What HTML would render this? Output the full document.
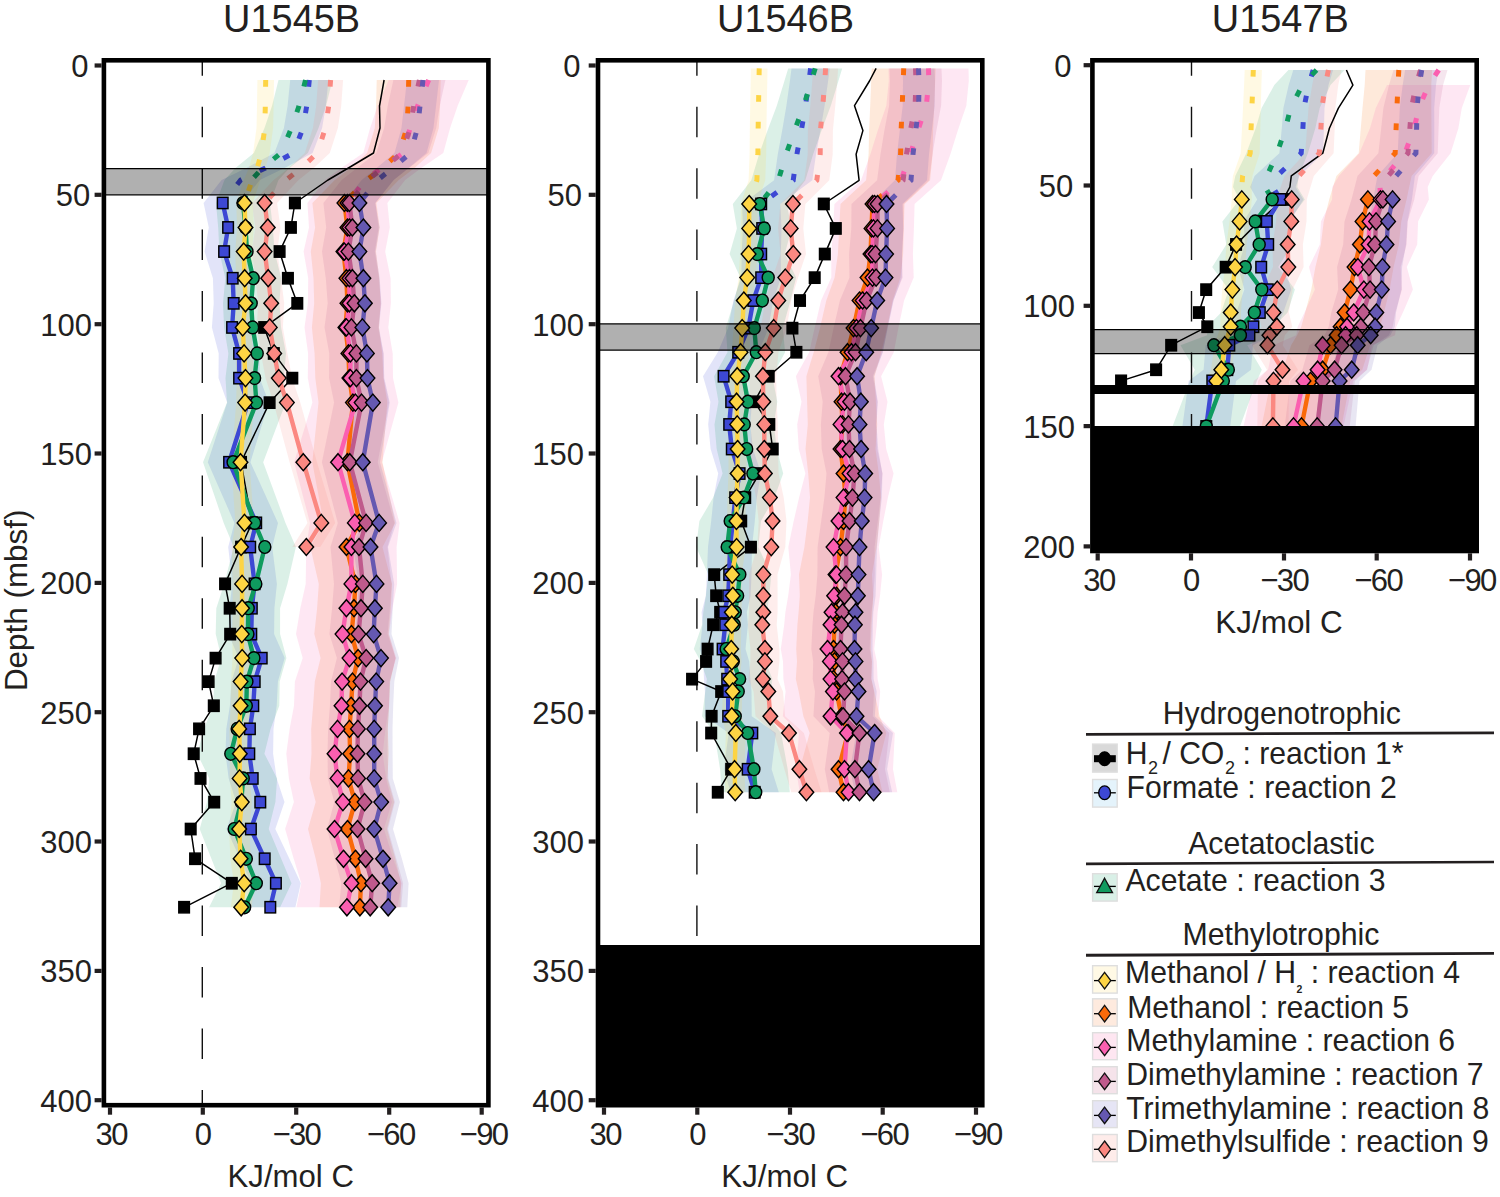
<!DOCTYPE html>
<html><head><meta charset="utf-8"><title>Figure</title>
<style>html,body{margin:0;padding:0;background:#fff}svg{display:block}text{font-family:"Liberation Sans",Arial,Helvetica,sans-serif;fill:#231f20}</style>
</head><body>
<svg width="1500" height="1197" viewBox="0 0 1500 1197" font-size="31">
<rect width="1500" height="1197" fill="#fff"/>
<clipPath id="clip1"><rect x="103.9" y="60.3" width="384.5" height="1044.9"/></clipPath>
<g clip-path="url(#clip1)">
<path d="M290.2 80 L287.6 106 L283.9 128 L274.4 153 L246.4 168 L221.6 180 L203.6 203 L208.8 227.5 L204.6 251.6 L212.9 278.2 L213.7 303.3 L211.9 327.4 L218.7 353.4 L218.5 378.1 L227.2 402.6 L207.8 462.2 L234.4 522.9 L228.2 547 L232.3 583.9 L229.2 608.2 L228.5 634.1 L238.7 658.1 L231.5 681.6 L229.9 705.8 L226.3 728.9 L225.5 753.8 L228.7 778.4 L236.1 802.1 L226.5 829 L240 858.8 L251 883.2 L245.2 907.3 L295.4 907.3 L300.8 883.2 L289.4 858.8 L275.3 829 L284.5 802.1 L276.7 778.4 L273.1 753.8 L273.5 728.9 L276.7 705.8 L277.9 681.6 L284.7 658.1 L274.1 634.1 L274.4 608.2 L276.9 583.9 L272.2 547 L278 522.9 L250.4 462.2 L268.8 402.6 L259.7 378.1 L259.5 353.4 L252.3 327.4 L253.7 303.3 L252.5 278.2 L243.6 251.6 L247.4 227.5 L241.8 203 L259.8 180 L284.6 168 L312.6 153 L322.1 128 L325.8 106 L328.4 80Z" fill="#3d48d4" fill-opacity="0.15"/>
<path d="M278.5 80 L272 106 L264.5 128 L253.9 153 L235.5 168 L224.5 180 L216 203 L218.2 227.5 L219.4 251.6 L225.3 278.2 L223 303.3 L224.1 327.4 L228.4 353.4 L225.5 378.1 L227 402.6 L203 462.2 L223.7 522.9 L233.7 547 L224.2 583.9 L216.3 608.2 L215.7 634.1 L221.4 658.1 L214.1 681.6 L213.3 705.8 L203.9 728.9 L197.2 753.8 L209.3 778.4 L207 802.1 L199.7 829 L211.4 858.8 L221.1 883.2 L209.1 907.3 L280.1 907.3 L291.5 883.2 L281.2 858.8 L268.7 829 L275.4 802.1 L277.1 778.4 L264.4 753.8 L270.5 728.9 L279.3 705.8 L279.7 681.6 L286.4 658.1 L280.1 634.1 L280.1 608.2 L287.4 583.9 L295.9 547 L285.5 522.9 L263.2 462.2 L285.8 402.6 L283.7 378.1 L286 353.4 L281.1 327.4 L279.4 303.3 L281.1 278.2 L274.6 251.6 L272.8 227.5 L270 203 L278.5 180 L289.5 168 L307.9 153 L318.5 128 L326 106 L332.5 80Z" fill="#0f9b5f" fill-opacity="0.15"/>
<path d="M257.4 80 L257 106 L256.5 128 L253.1 153 L248.9 168 L243.8 180 L236.2 203 L237.1 227.5 L235.2 251.6 L236.2 278.2 L236.9 303.3 L234 327.4 L235.3 353.4 L236.7 378.1 L236.2 402.6 L231.4 462.2 L235.3 522.9 L231.8 547 L232.7 583.9 L232.6 608.2 L232.2 634.1 L232.6 658.1 L230.9 681.6 L230.8 705.8 L229.3 728.9 L229.9 753.8 L229.6 778.4 L231.7 802.1 L229.1 829 L230.4 858.8 L233.9 883.2 L230.8 907.3 L251.6 907.3 L254.5 883.2 L250.8 858.8 L249.3 829 L251.9 802.1 L249.6 778.4 L249.7 753.8 L249.1 728.9 L250.4 705.8 L250.3 681.6 L251.8 658.1 L251.4 634.1 L251.6 608.2 L251.5 583.9 L250.4 547 L253.7 522.9 L249.6 462.2 L254 402.6 L254.3 378.1 L252.9 353.4 L251.4 327.4 L254.1 303.3 L253.2 278.2 L252.2 251.6 L253.9 227.5 L252.8 203 L260.4 180 L265.5 168 L269.7 153 L273.1 128 L273.6 106 L274 80Z" fill="#fdd444" fill-opacity="0.15"/>
<path d="M376.7 80 L376.1 106 L374.8 128 L367.1 153 L350.6 168 L334.8 180 L312.4 203 L315.1 227.5 L310.8 251.6 L313.5 278.2 L314.2 303.3 L311.9 327.4 L314.6 353.4 L315.3 378.1 L318.5 402.6 L312.3 462.2 L323.6 522.9 L310.3 547 L318.8 583.9 L317.1 608.2 L314.3 634.1 L320.6 658.1 L314.8 681.6 L313.1 705.8 L311.2 728.9 L311.5 753.8 L309.6 778.4 L315.7 802.1 L308 829 L315.7 858.8 L320.9 883.2 L319.5 907.3 L400.3 907.3 L401.1 883.2 L395.3 858.8 L387 829 L394.1 802.1 L387.4 778.4 L388.7 753.8 L387.8 728.9 L389.1 705.8 L390.2 681.6 L395.6 658.1 L388.7 634.1 L390.9 608.2 L392 583.9 L382.5 547 L395.2 522.9 L382.5 462.2 L387.3 402.6 L383.5 378.1 L382.2 353.4 L378.9 327.4 L380.6 303.3 L379.3 278.2 L376 251.6 L379.7 227.5 L376.4 203 L398.8 180 L414.6 168 L431.1 153 L438.8 128 L440.1 106 L440.7 80Z" fill="#fa6a0a" fill-opacity="0.15"/>
<path d="M388.7 80 L377.6 106 L370.1 128 L363.3 153 L341.3 168 L325.2 180 L307.4 203 L309 227.5 L303.6 251.6 L308.2 278.2 L307.9 303.3 L304.5 327.4 L308.1 353.4 L307.8 378.1 L312.4 402.6 L294.1 462.2 L310 522.9 L306.2 547 L305.7 583.9 L300.3 608.2 L296 634.1 L302.7 658.1 L294.9 681.6 L294 705.8 L289.6 728.9 L286.3 753.8 L288.9 778.4 L293.9 802.1 L285.1 829 L293.7 858.8 L301.3 883.2 L296.4 907.3 L397.4 907.3 L401.7 883.2 L393.3 858.8 L383.9 829 L391.9 802.1 L386.1 778.4 L382.7 753.8 L385.4 728.9 L389 705.8 L389.3 681.6 L396.3 658.1 L389 634.1 L392.5 608.2 L397.1 583.9 L396.6 547 L399.6 522.9 L381.9 462.2 L398.4 402.6 L393 378.1 L392.7 353.4 L388.3 327.4 L390.9 303.3 L390.6 278.2 L385.2 251.6 L389.8 227.5 L387.4 203 L405.2 180 L421.3 168 L443.3 153 L450.1 128 L457.6 106 L468.7 80Z" fill="#fb5fb0" fill-opacity="0.15"/>
<path d="M393.4 80 L387.7 106 L384.2 128 L376.3 153 L357.1 168 L341.7 180 L323.4 203 L326.2 227.5 L322 251.6 L325.8 278.2 L327.7 303.3 L324.5 327.4 L329.3 353.4 L329.1 378.1 L334.1 402.6 L321.9 462.2 L337.8 522.9 L330.5 547 L334 583.9 L332.1 608.2 L329.4 634.1 L336.9 658.1 L331 681.6 L329.9 705.8 L328.1 728.9 L327.5 753.8 L327.9 778.4 L334.3 802.1 L327 829 L334.9 858.8 L341.3 883.2 L339.1 907.3 L401.3 907.3 L403.1 883.2 L396.3 858.8 L388 829 L394.9 802.1 L388.3 778.4 L387.5 753.8 L387.7 728.9 L389.1 705.8 L390 681.6 L395.5 658.1 L387.6 634.1 L389.9 608.2 L391.6 583.9 L387.5 547 L394.4 522.9 L377.7 462.2 L389.1 402.6 L383.7 378.1 L383.5 353.4 L378.3 327.4 L381.1 303.3 L379 278.2 L374.8 251.6 L378.6 227.5 L375.4 203 L393.7 180 L409.1 168 L428.3 153 L436.2 128 L439.7 106 L445.4 80Z" fill="#bf5a8c" fill-opacity="0.15"/>
<path d="M407 80 L404 106 L401.5 128 L394.5 153 L376.6 168 L361.7 180 L343.4 203 L347.3 227.5 L343.2 251.6 L347.1 278.2 L348.4 303.3 L345.8 327.4 L350.2 353.4 L350.7 378.1 L356 402.6 L345.6 462.2 L361.7 522.9 L353 547 L358.8 583.9 L357.1 608.2 L355.7 634.1 L363 658.1 L358.1 681.6 L356.8 705.8 L355.9 728.9 L355.8 753.8 L355.6 778.4 L362.5 802.1 L355.4 829 L364.1 858.8 L370.6 883.2 L369.1 907.3 L407.3 907.3 L408.6 883.2 L401.9 858.8 L393 829 L399.9 802.1 L392.8 778.4 L392.6 753.8 L392.5 728.9 L393.2 705.8 L394.3 681.6 L399 658.1 L391.5 634.1 L392.7 608.2 L394.2 583.9 L388 547 L396.5 522.9 L380 462.2 L389.8 402.6 L384.3 378.1 L383.6 353.4 L379 327.4 L381.4 303.3 L379.7 278.2 L375.6 251.6 L379.5 227.5 L375.4 203 L393.7 180 L408.6 168 L426.5 153 L433.5 128 L436 106 L439 80Z" fill="#6558b1" fill-opacity="0.15"/>
<path d="M318.1 80 L316.2 106 L312.9 128 L304.8 153 L288.8 168 L273.6 180 L252.1 203 L255.2 227.5 L251.9 251.6 L255.4 278.2 L258.2 303.3 L256.7 327.4 L261 353.4 L265.5 378.1 L273.5 402.6 L289.6 462.2 L307.4 522.9 L292.3 547 L320.3 547 L335.2 522.9 L317 462.2 L300.3 402.6 L292.1 378.1 L287.4 353.4 L282.9 327.4 L284.2 303.3 L281 278.2 L277.3 251.6 L280.4 227.5 L277.1 203 L298.6 180 L313.8 168 L329.8 153 L337.9 128 L341.2 106 L343.1 80Z" fill="#fb8881" fill-opacity="0.15"/>
<line x1="202.3" y1="45.25" x2="202.3" y2="1105.2" stroke="#111" stroke-width="1.4" stroke-dasharray="30.5 30.95"/>
<path d="M384.1 80 L379.5 106 L380 128 L373.5 153 L348.4 168 L328 180 L294.9 203 L290.9 227.5 L279.6 251.6 L287.9 278.2 L297.3 303.3 L264.2 327.4 L273.8 353.4 L292.3 378.1 L269.6 402.6 L241 462.2 L252 522.9 L241.1 547 L225.1 583.9 L229.7 608.2 L230.2 634.1 L215.6 658.1 L208.6 681.6 L213.8 705.8 L199.1 728.9 L193.7 753.8 L200.5 778.4 L214.2 802.1 L190.7 829 L195.1 858.8 L231.8 883.2 L184.1 907.3" fill="none" stroke="#000" stroke-width="1.5" stroke-linejoin="round"/>
<path d="M309.3 80 L306.7 106 L303 128 L293.5 153 L265.5 168 L240.7 180 L222.7 203" fill="none" stroke="#3d48d4" stroke-width="5" stroke-dasharray="6.7 20"/>
<path d="M222.7 203 L228.1 227.5 L224.1 251.6 L232.7 278.2 L233.7 303.3 L232.1 327.4 L239.1 353.4 L239.1 378.1 L248 402.6 L229.1 462.2 L256.2 522.9 L250.2 547 L254.6 583.9 L251.8 608.2 L251.3 634.1 L261.7 658.1 L254.7 681.6 L253.3 705.8 L249.9 728.9 L249.3 753.8 L252.7 778.4 L260.3 802.1 L250.9 829 L264.7 858.8 L275.9 883.2 L270.3 907.3" fill="none" stroke="#3d48d4" stroke-width="4.4" stroke-linejoin="round"/>
<path d="M305.5 80 L299 106 L291.5 128 L280.9 153 L262.5 168 L251.5 180 L243 203" fill="none" stroke="#0f9b5f" stroke-width="5" stroke-dasharray="6.7 20"/>
<path d="M243 203 L245.5 227.5 L247 251.6 L253.2 278.2 L251.2 303.3 L252.6 327.4 L257.2 353.4 L254.6 378.1 L256.4 402.6 L233.1 462.2 L254.6 522.9 L264.8 547 L255.8 583.9 L248.2 608.2 L247.9 634.1 L253.9 658.1 L246.9 681.6 L246.3 705.8 L237.2 728.9 L230.8 753.8 L243.2 778.4 L241.2 802.1 L234.2 829 L246.3 858.8 L256.3 883.2 L244.6 907.3" fill="none" stroke="#0f9b5f" stroke-width="4.4" stroke-linejoin="round"/>
<path d="M265.7 80 L265.3 106 L264.8 128 L261.4 153 L257.2 168 L252.1 180 L244.5 203" fill="none" stroke="#fdd444" stroke-width="5" stroke-dasharray="6.7 20"/>
<path d="M244.5 203 L245.5 227.5 L243.7 251.6 L244.7 278.2 L245.5 303.3 L242.7 327.4 L244.1 353.4 L245.5 378.1 L245.1 402.6 L240.5 462.2 L244.5 522.9 L241.1 547 L242.1 583.9 L242.1 608.2 L241.8 634.1 L242.2 658.1 L240.6 681.6 L240.6 705.8 L239.2 728.9 L239.8 753.8 L239.6 778.4 L241.8 802.1 L239.2 829 L240.6 858.8 L244.2 883.2 L241.2 907.3" fill="none" stroke="#fdd444" stroke-width="4.4" stroke-linejoin="round"/>
<path d="M408.7 80 L408.1 106 L406.8 128 L399.1 153 L382.6 168 L366.8 180 L344.4 203" fill="none" stroke="#fa6a0a" stroke-width="5" stroke-dasharray="6.7 20"/>
<path d="M344.4 203 L347.4 227.5 L343.4 251.6 L346.4 278.2 L347.4 303.3 L345.4 327.4 L348.4 353.4 L349.4 378.1 L352.9 402.6 L347.4 462.2 L359.4 522.9 L346.4 547 L355.4 583.9 L354 608.2 L351.5 634.1 L358.1 658.1 L352.5 681.6 L351.1 705.8 L349.5 728.9 L350.1 753.8 L348.5 778.4 L354.9 802.1 L347.5 829 L355.5 858.8 L361 883.2 L359.9 907.3" fill="none" stroke="#fa6a0a" stroke-width="4.4" stroke-linejoin="round"/>
<path d="M428.7 80 L417.6 106 L410.1 128 L403.3 153 L381.3 168 L365.2 180 L347.4 203" fill="none" stroke="#fb5fb0" stroke-width="5" stroke-dasharray="6.7 20"/>
<path d="M347.4 203 L349.4 227.5 L344.4 251.6 L349.4 278.2 L349.4 303.3 L346.4 327.4 L350.4 353.4 L350.4 378.1 L355.4 402.6 L338 462.2 L354.8 522.9 L351.4 547 L351.4 583.9 L346.4 608.2 L342.5 634.1 L349.5 658.1 L342.1 681.6 L341.5 705.8 L337.5 728.9 L334.5 753.8 L337.5 778.4 L342.9 802.1 L334.5 829 L343.5 858.8 L351.5 883.2 L346.9 907.3" fill="none" stroke="#fb5fb0" stroke-width="4.4" stroke-linejoin="round"/>
<path d="M419.4 80 L413.7 106 L410.2 128 L402.3 153 L383.1 168 L367.7 180 L349.4 203" fill="none" stroke="#bf5a8c" stroke-width="5" stroke-dasharray="6.7 20"/>
<path d="M349.4 203 L352.4 227.5 L348.4 251.6 L352.4 278.2 L354.4 303.3 L351.4 327.4 L356.4 353.4 L356.4 378.1 L361.6 402.6 L349.8 462.2 L366.1 522.9 L359 547 L362.8 583.9 L361 608.2 L358.5 634.1 L366.2 658.1 L360.5 681.6 L359.5 705.8 L357.9 728.9 L357.5 753.8 L358.1 778.4 L364.6 802.1 L357.5 829 L365.6 858.8 L372.2 883.2 L370.2 907.3" fill="none" stroke="#bf5a8c" stroke-width="4.4" stroke-linejoin="round"/>
<path d="M423 80 L420 106 L417.5 128 L410.5 153 L392.6 168 L377.7 180 L359.4 203" fill="none" stroke="#6558b1" stroke-width="5" stroke-dasharray="6.7 20"/>
<path d="M359.4 203 L363.4 227.5 L359.4 251.6 L363.4 278.2 L364.9 303.3 L362.4 327.4 L366.9 353.4 L367.5 378.1 L372.9 402.6 L362.8 462.2 L379.1 522.9 L370.5 547 L376.5 583.9 L374.9 608.2 L373.6 634.1 L381 658.1 L376.2 681.6 L375 705.8 L374.2 728.9 L374.2 753.8 L374.2 778.4 L381.2 802.1 L374.2 829 L383 858.8 L389.6 883.2 L388.2 907.3" fill="none" stroke="#6558b1" stroke-width="4.4" stroke-linejoin="round"/>
<path d="M330.6 80 L328.7 106 L325.4 128 L317.3 153 L301.3 168 L286.1 180 L264.6 203" fill="none" stroke="#fb8881" stroke-width="5" stroke-dasharray="6.7 20"/>
<path d="M264.6 203 L267.8 227.5 L264.6 251.6 L268.2 278.2 L271.2 303.3 L269.8 327.4 L274.2 353.4 L278.8 378.1 L286.9 402.6 L303.3 462.2 L321.3 522.9 L306.3 547" fill="none" stroke="#fb8881" stroke-width="4.4" stroke-linejoin="round"/>
<g fill="#000000" stroke="#000" stroke-width="1.45" stroke-linejoin="miter"><rect x="289.6" y="197.3" width="10.6" height="11.3"/><rect x="285.6" y="221.8" width="10.6" height="11.3"/><rect x="274.3" y="245.9" width="10.6" height="11.3"/><rect x="282.6" y="272.6" width="10.6" height="11.3"/><rect x="292" y="297.7" width="10.6" height="11.3"/><rect x="258.9" y="321.8" width="10.6" height="11.3"/><rect x="268.5" y="347.8" width="10.6" height="11.3"/><rect x="287" y="372.5" width="10.6" height="11.3"/><rect x="264.3" y="397" width="10.6" height="11.3"/><rect x="235.7" y="456.6" width="10.6" height="11.3"/><rect x="246.7" y="517.2" width="10.6" height="11.3"/><rect x="235.8" y="541.4" width="10.6" height="11.3"/><rect x="219.8" y="578.2" width="10.6" height="11.3"/><rect x="224.4" y="602.6" width="10.6" height="11.3"/><rect x="224.9" y="628.5" width="10.6" height="11.3"/><rect x="210.3" y="652.5" width="10.6" height="11.3"/><rect x="203.3" y="676" width="10.6" height="11.3"/><rect x="208.5" y="700.1" width="10.6" height="11.3"/><rect x="193.8" y="723.2" width="10.6" height="11.3"/><rect x="188.4" y="748.1" width="10.6" height="11.3"/><rect x="195.2" y="772.8" width="10.6" height="11.3"/><rect x="208.9" y="796.5" width="10.6" height="11.3"/><rect x="185.4" y="823.4" width="10.6" height="11.3"/><rect x="189.8" y="853.1" width="10.6" height="11.3"/><rect x="226.5" y="877.6" width="10.6" height="11.3"/><rect x="178.8" y="901.6" width="10.6" height="11.3"/></g>
<g fill="#3d48d4" stroke="#000" stroke-width="1.45" stroke-linejoin="miter"><rect x="217.4" y="197.3" width="10.6" height="11.3"/><rect x="222.8" y="221.8" width="10.6" height="11.3"/><rect x="218.8" y="245.9" width="10.6" height="11.3"/><rect x="227.4" y="272.6" width="10.6" height="11.3"/><rect x="228.4" y="297.7" width="10.6" height="11.3"/><rect x="226.8" y="321.8" width="10.6" height="11.3"/><rect x="233.8" y="347.8" width="10.6" height="11.3"/><rect x="233.8" y="372.5" width="10.6" height="11.3"/><rect x="242.7" y="397" width="10.6" height="11.3"/><rect x="223.8" y="456.6" width="10.6" height="11.3"/><rect x="250.9" y="517.2" width="10.6" height="11.3"/><rect x="244.9" y="541.4" width="10.6" height="11.3"/><rect x="249.3" y="578.2" width="10.6" height="11.3"/><rect x="246.5" y="602.6" width="10.6" height="11.3"/><rect x="246" y="628.5" width="10.6" height="11.3"/><rect x="256.4" y="652.5" width="10.6" height="11.3"/><rect x="249.4" y="676" width="10.6" height="11.3"/><rect x="248" y="700.1" width="10.6" height="11.3"/><rect x="244.6" y="723.2" width="10.6" height="11.3"/><rect x="244" y="748.1" width="10.6" height="11.3"/><rect x="247.4" y="772.8" width="10.6" height="11.3"/><rect x="255" y="796.5" width="10.6" height="11.3"/><rect x="245.6" y="823.4" width="10.6" height="11.3"/><rect x="259.4" y="853.1" width="10.6" height="11.3"/><rect x="270.6" y="877.6" width="10.6" height="11.3"/><rect x="265" y="901.6" width="10.6" height="11.3"/></g>
<g fill="#0f9b5f" stroke="#000" stroke-width="1.45" stroke-linejoin="miter"><ellipse cx="243" cy="203" rx="6" ry="6.4"/><ellipse cx="245.5" cy="227.5" rx="6" ry="6.4"/><ellipse cx="247" cy="251.6" rx="6" ry="6.4"/><ellipse cx="253.2" cy="278.2" rx="6" ry="6.4"/><ellipse cx="251.2" cy="303.3" rx="6" ry="6.4"/><ellipse cx="252.6" cy="327.4" rx="6" ry="6.4"/><ellipse cx="257.2" cy="353.4" rx="6" ry="6.4"/><ellipse cx="254.6" cy="378.1" rx="6" ry="6.4"/><ellipse cx="256.4" cy="402.6" rx="6" ry="6.4"/><ellipse cx="233.1" cy="462.2" rx="6" ry="6.4"/><ellipse cx="254.6" cy="522.9" rx="6" ry="6.4"/><ellipse cx="264.8" cy="547" rx="6" ry="6.4"/><ellipse cx="255.8" cy="583.9" rx="6" ry="6.4"/><ellipse cx="248.2" cy="608.2" rx="6" ry="6.4"/><ellipse cx="247.9" cy="634.1" rx="6" ry="6.4"/><ellipse cx="253.9" cy="658.1" rx="6" ry="6.4"/><ellipse cx="246.9" cy="681.6" rx="6" ry="6.4"/><ellipse cx="246.3" cy="705.8" rx="6" ry="6.4"/><ellipse cx="237.2" cy="728.9" rx="6" ry="6.4"/><ellipse cx="230.8" cy="753.8" rx="6" ry="6.4"/><ellipse cx="243.2" cy="778.4" rx="6" ry="6.4"/><ellipse cx="241.2" cy="802.1" rx="6" ry="6.4"/><ellipse cx="234.2" cy="829" rx="6" ry="6.4"/><ellipse cx="246.3" cy="858.8" rx="6" ry="6.4"/><ellipse cx="256.3" cy="883.2" rx="6" ry="6.4"/><ellipse cx="244.6" cy="907.3" rx="6" ry="6.4"/></g>
<g fill="#fdd444" stroke="#000" stroke-width="1.45" stroke-linejoin="miter"><path d="M244.5 194.5L251.8 203L244.5 211.5L237.2 203Z"/><path d="M245.5 219L252.8 227.5L245.5 236L238.2 227.5Z"/><path d="M243.7 243.1L251 251.6L243.7 260.1L236.4 251.6Z"/><path d="M244.7 269.7L252 278.2L244.7 286.7L237.4 278.2Z"/><path d="M245.5 294.8L252.8 303.3L245.5 311.8L238.2 303.3Z"/><path d="M242.7 318.9L250 327.4L242.7 335.9L235.4 327.4Z"/><path d="M244.1 344.9L251.4 353.4L244.1 361.9L236.8 353.4Z"/><path d="M245.5 369.6L252.8 378.1L245.5 386.6L238.2 378.1Z"/><path d="M245.1 394.1L252.4 402.6L245.1 411.1L237.8 402.6Z"/><path d="M240.5 453.7L247.8 462.2L240.5 470.7L233.2 462.2Z"/><path d="M244.5 514.4L251.8 522.9L244.5 531.4L237.2 522.9Z"/><path d="M241.1 538.5L248.4 547L241.1 555.5L233.8 547Z"/><path d="M242.1 575.4L249.4 583.9L242.1 592.4L234.8 583.9Z"/><path d="M242.1 599.7L249.4 608.2L242.1 616.7L234.8 608.2Z"/><path d="M241.8 625.6L249.1 634.1L241.8 642.6L234.5 634.1Z"/><path d="M242.2 649.6L249.5 658.1L242.2 666.6L234.9 658.1Z"/><path d="M240.6 673.1L247.9 681.6L240.6 690.1L233.3 681.6Z"/><path d="M240.6 697.3L247.9 705.8L240.6 714.3L233.3 705.8Z"/><path d="M239.2 720.4L246.5 728.9L239.2 737.4L231.9 728.9Z"/><path d="M239.8 745.3L247.1 753.8L239.8 762.3L232.5 753.8Z"/><path d="M239.6 769.9L246.9 778.4L239.6 786.9L232.3 778.4Z"/><path d="M241.8 793.6L249.1 802.1L241.8 810.6L234.5 802.1Z"/><path d="M239.2 820.5L246.5 829L239.2 837.5L231.9 829Z"/><path d="M240.6 850.3L247.9 858.8L240.6 867.3L233.3 858.8Z"/><path d="M244.2 874.7L251.5 883.2L244.2 891.7L236.9 883.2Z"/><path d="M241.2 898.8L248.5 907.3L241.2 915.8L233.9 907.3Z"/></g>
<g fill="#fa6a0a" stroke="#000" stroke-width="1.45" stroke-linejoin="miter"><path d="M344.4 194.5L351.7 203L344.4 211.5L337.1 203Z"/><path d="M347.4 219L354.7 227.5L347.4 236L340.1 227.5Z"/><path d="M343.4 243.1L350.7 251.6L343.4 260.1L336.1 251.6Z"/><path d="M346.4 269.7L353.7 278.2L346.4 286.7L339.1 278.2Z"/><path d="M347.4 294.8L354.7 303.3L347.4 311.8L340.1 303.3Z"/><path d="M345.4 318.9L352.7 327.4L345.4 335.9L338.1 327.4Z"/><path d="M348.4 344.9L355.7 353.4L348.4 361.9L341.1 353.4Z"/><path d="M349.4 369.6L356.7 378.1L349.4 386.6L342.1 378.1Z"/><path d="M352.9 394.1L360.2 402.6L352.9 411.1L345.6 402.6Z"/><path d="M347.4 453.7L354.7 462.2L347.4 470.7L340.1 462.2Z"/><path d="M359.4 514.4L366.7 522.9L359.4 531.4L352.1 522.9Z"/><path d="M346.4 538.5L353.7 547L346.4 555.5L339.1 547Z"/><path d="M355.4 575.4L362.7 583.9L355.4 592.4L348.1 583.9Z"/><path d="M354 599.7L361.3 608.2L354 616.7L346.7 608.2Z"/><path d="M351.5 625.6L358.8 634.1L351.5 642.6L344.2 634.1Z"/><path d="M358.1 649.6L365.4 658.1L358.1 666.6L350.8 658.1Z"/><path d="M352.5 673.1L359.8 681.6L352.5 690.1L345.2 681.6Z"/><path d="M351.1 697.3L358.4 705.8L351.1 714.3L343.8 705.8Z"/><path d="M349.5 720.4L356.8 728.9L349.5 737.4L342.2 728.9Z"/><path d="M350.1 745.3L357.4 753.8L350.1 762.3L342.8 753.8Z"/><path d="M348.5 769.9L355.8 778.4L348.5 786.9L341.2 778.4Z"/><path d="M354.9 793.6L362.2 802.1L354.9 810.6L347.6 802.1Z"/><path d="M347.5 820.5L354.8 829L347.5 837.5L340.2 829Z"/><path d="M355.5 850.3L362.8 858.8L355.5 867.3L348.2 858.8Z"/><path d="M361 874.7L368.3 883.2L361 891.7L353.7 883.2Z"/><path d="M359.9 898.8L367.2 907.3L359.9 915.8L352.6 907.3Z"/></g>
<g fill="#fb5fb0" stroke="#000" stroke-width="1.45" stroke-linejoin="miter"><path d="M347.4 194.5L354.7 203L347.4 211.5L340.1 203Z"/><path d="M349.4 219L356.7 227.5L349.4 236L342.1 227.5Z"/><path d="M344.4 243.1L351.7 251.6L344.4 260.1L337.1 251.6Z"/><path d="M349.4 269.7L356.7 278.2L349.4 286.7L342.1 278.2Z"/><path d="M349.4 294.8L356.7 303.3L349.4 311.8L342.1 303.3Z"/><path d="M346.4 318.9L353.7 327.4L346.4 335.9L339.1 327.4Z"/><path d="M350.4 344.9L357.7 353.4L350.4 361.9L343.1 353.4Z"/><path d="M350.4 369.6L357.7 378.1L350.4 386.6L343.1 378.1Z"/><path d="M355.4 394.1L362.7 402.6L355.4 411.1L348.1 402.6Z"/><path d="M338 453.7L345.3 462.2L338 470.7L330.7 462.2Z"/><path d="M354.8 514.4L362.1 522.9L354.8 531.4L347.5 522.9Z"/><path d="M351.4 538.5L358.7 547L351.4 555.5L344.1 547Z"/><path d="M351.4 575.4L358.7 583.9L351.4 592.4L344.1 583.9Z"/><path d="M346.4 599.7L353.7 608.2L346.4 616.7L339.1 608.2Z"/><path d="M342.5 625.6L349.8 634.1L342.5 642.6L335.2 634.1Z"/><path d="M349.5 649.6L356.8 658.1L349.5 666.6L342.2 658.1Z"/><path d="M342.1 673.1L349.4 681.6L342.1 690.1L334.8 681.6Z"/><path d="M341.5 697.3L348.8 705.8L341.5 714.3L334.2 705.8Z"/><path d="M337.5 720.4L344.8 728.9L337.5 737.4L330.2 728.9Z"/><path d="M334.5 745.3L341.8 753.8L334.5 762.3L327.2 753.8Z"/><path d="M337.5 769.9L344.8 778.4L337.5 786.9L330.2 778.4Z"/><path d="M342.9 793.6L350.2 802.1L342.9 810.6L335.6 802.1Z"/><path d="M334.5 820.5L341.8 829L334.5 837.5L327.2 829Z"/><path d="M343.5 850.3L350.8 858.8L343.5 867.3L336.2 858.8Z"/><path d="M351.5 874.7L358.8 883.2L351.5 891.7L344.2 883.2Z"/><path d="M346.9 898.8L354.2 907.3L346.9 915.8L339.6 907.3Z"/></g>
<g fill="#bf5a8c" stroke="#000" stroke-width="1.45" stroke-linejoin="miter"><path d="M349.4 194.5L356.7 203L349.4 211.5L342.1 203Z"/><path d="M352.4 219L359.7 227.5L352.4 236L345.1 227.5Z"/><path d="M348.4 243.1L355.7 251.6L348.4 260.1L341.1 251.6Z"/><path d="M352.4 269.7L359.7 278.2L352.4 286.7L345.1 278.2Z"/><path d="M354.4 294.8L361.7 303.3L354.4 311.8L347.1 303.3Z"/><path d="M351.4 318.9L358.7 327.4L351.4 335.9L344.1 327.4Z"/><path d="M356.4 344.9L363.7 353.4L356.4 361.9L349.1 353.4Z"/><path d="M356.4 369.6L363.7 378.1L356.4 386.6L349.1 378.1Z"/><path d="M361.6 394.1L368.9 402.6L361.6 411.1L354.3 402.6Z"/><path d="M349.8 453.7L357.1 462.2L349.8 470.7L342.5 462.2Z"/><path d="M366.1 514.4L373.4 522.9L366.1 531.4L358.8 522.9Z"/><path d="M359 538.5L366.3 547L359 555.5L351.7 547Z"/><path d="M362.8 575.4L370.1 583.9L362.8 592.4L355.5 583.9Z"/><path d="M361 599.7L368.3 608.2L361 616.7L353.7 608.2Z"/><path d="M358.5 625.6L365.8 634.1L358.5 642.6L351.2 634.1Z"/><path d="M366.2 649.6L373.5 658.1L366.2 666.6L358.9 658.1Z"/><path d="M360.5 673.1L367.8 681.6L360.5 690.1L353.2 681.6Z"/><path d="M359.5 697.3L366.8 705.8L359.5 714.3L352.2 705.8Z"/><path d="M357.9 720.4L365.2 728.9L357.9 737.4L350.6 728.9Z"/><path d="M357.5 745.3L364.8 753.8L357.5 762.3L350.2 753.8Z"/><path d="M358.1 769.9L365.4 778.4L358.1 786.9L350.8 778.4Z"/><path d="M364.6 793.6L371.9 802.1L364.6 810.6L357.3 802.1Z"/><path d="M357.5 820.5L364.8 829L357.5 837.5L350.2 829Z"/><path d="M365.6 850.3L372.9 858.8L365.6 867.3L358.3 858.8Z"/><path d="M372.2 874.7L379.5 883.2L372.2 891.7L364.9 883.2Z"/><path d="M370.2 898.8L377.5 907.3L370.2 915.8L362.9 907.3Z"/></g>
<g fill="#6558b1" stroke="#000" stroke-width="1.45" stroke-linejoin="miter"><path d="M359.4 194.5L366.7 203L359.4 211.5L352.1 203Z"/><path d="M363.4 219L370.7 227.5L363.4 236L356.1 227.5Z"/><path d="M359.4 243.1L366.7 251.6L359.4 260.1L352.1 251.6Z"/><path d="M363.4 269.7L370.7 278.2L363.4 286.7L356.1 278.2Z"/><path d="M364.9 294.8L372.2 303.3L364.9 311.8L357.6 303.3Z"/><path d="M362.4 318.9L369.7 327.4L362.4 335.9L355.1 327.4Z"/><path d="M366.9 344.9L374.2 353.4L366.9 361.9L359.6 353.4Z"/><path d="M367.5 369.6L374.8 378.1L367.5 386.6L360.2 378.1Z"/><path d="M372.9 394.1L380.2 402.6L372.9 411.1L365.6 402.6Z"/><path d="M362.8 453.7L370.1 462.2L362.8 470.7L355.5 462.2Z"/><path d="M379.1 514.4L386.4 522.9L379.1 531.4L371.8 522.9Z"/><path d="M370.5 538.5L377.8 547L370.5 555.5L363.2 547Z"/><path d="M376.5 575.4L383.8 583.9L376.5 592.4L369.2 583.9Z"/><path d="M374.9 599.7L382.2 608.2L374.9 616.7L367.6 608.2Z"/><path d="M373.6 625.6L380.9 634.1L373.6 642.6L366.3 634.1Z"/><path d="M381 649.6L388.3 658.1L381 666.6L373.7 658.1Z"/><path d="M376.2 673.1L383.5 681.6L376.2 690.1L368.9 681.6Z"/><path d="M375 697.3L382.3 705.8L375 714.3L367.7 705.8Z"/><path d="M374.2 720.4L381.5 728.9L374.2 737.4L366.9 728.9Z"/><path d="M374.2 745.3L381.5 753.8L374.2 762.3L366.9 753.8Z"/><path d="M374.2 769.9L381.5 778.4L374.2 786.9L366.9 778.4Z"/><path d="M381.2 793.6L388.5 802.1L381.2 810.6L373.9 802.1Z"/><path d="M374.2 820.5L381.5 829L374.2 837.5L366.9 829Z"/><path d="M383 850.3L390.3 858.8L383 867.3L375.7 858.8Z"/><path d="M389.6 874.7L396.9 883.2L389.6 891.7L382.3 883.2Z"/><path d="M388.2 898.8L395.5 907.3L388.2 915.8L380.9 907.3Z"/></g>
<g fill="#fb8881" stroke="#000" stroke-width="1.45" stroke-linejoin="miter"><path d="M264.6 194.5L271.9 203L264.6 211.5L257.3 203Z"/><path d="M267.8 219L275.1 227.5L267.8 236L260.5 227.5Z"/><path d="M264.6 243.1L271.9 251.6L264.6 260.1L257.3 251.6Z"/><path d="M268.2 269.7L275.5 278.2L268.2 286.7L260.9 278.2Z"/><path d="M271.2 294.8L278.5 303.3L271.2 311.8L263.9 303.3Z"/><path d="M269.8 318.9L277.1 327.4L269.8 335.9L262.5 327.4Z"/><path d="M274.2 344.9L281.5 353.4L274.2 361.9L266.9 353.4Z"/><path d="M278.8 369.6L286.1 378.1L278.8 386.6L271.5 378.1Z"/><path d="M286.9 394.1L294.2 402.6L286.9 411.1L279.6 402.6Z"/><path d="M303.3 453.7L310.6 462.2L303.3 470.7L296 462.2Z"/><path d="M321.3 514.4L328.6 522.9L321.3 531.4L314 522.9Z"/><path d="M306.3 538.5L313.6 547L306.3 555.5L299 547Z"/></g>
<rect x="100" y="168.7" width="392" height="26.1" fill="#000" fill-opacity="0.31"/><line x1="100" y1="168.7" x2="492" y2="168.7" stroke="#000" stroke-width="1.3"/><line x1="100" y1="194.8" x2="492" y2="194.8" stroke="#000" stroke-width="1.3"/>
</g>
<rect x="103.9" y="60.3" width="384.5" height="1044.9" fill="none" stroke="#000" stroke-width="4.6"/>
<line x1="94.6" y1="65.5" x2="101.6" y2="65.5" stroke="#231f20" stroke-width="4.2"/>
<text transform="translate(88.5 77) scale(1 1.03)" text-anchor="end">0</text>
<line x1="94.6" y1="194.8" x2="101.6" y2="194.8" stroke="#231f20" stroke-width="4.2"/>
<text transform="translate(90.3 206.3) scale(1 1.03)" text-anchor="end">50</text>
<line x1="94.6" y1="324.2" x2="101.6" y2="324.2" stroke="#231f20" stroke-width="4.2"/>
<text transform="translate(92 335.7) scale(1 1.03)" text-anchor="end">100</text>
<line x1="94.6" y1="453.5" x2="101.6" y2="453.5" stroke="#231f20" stroke-width="4.2"/>
<text transform="translate(92 465) scale(1 1.03)" text-anchor="end">150</text>
<line x1="94.6" y1="582.9" x2="101.6" y2="582.9" stroke="#231f20" stroke-width="4.2"/>
<text transform="translate(92 594.4) scale(1 1.03)" text-anchor="end">200</text>
<line x1="94.6" y1="712.2" x2="101.6" y2="712.2" stroke="#231f20" stroke-width="4.2"/>
<text transform="translate(92 723.7) scale(1 1.03)" text-anchor="end">250</text>
<line x1="94.6" y1="841.5" x2="101.6" y2="841.5" stroke="#231f20" stroke-width="4.2"/>
<text transform="translate(92 853) scale(1 1.03)" text-anchor="end">300</text>
<line x1="94.6" y1="970.9" x2="101.6" y2="970.9" stroke="#231f20" stroke-width="4.2"/>
<text transform="translate(92 982.4) scale(1 1.03)" text-anchor="end">350</text>
<line x1="94.6" y1="1100.2" x2="101.6" y2="1100.2" stroke="#231f20" stroke-width="4.2"/>
<text transform="translate(92 1111.7) scale(1 1.03)" text-anchor="end">400</text>
<line x1="110" y1="1107.5" x2="110" y2="1114.7" stroke="#231f20" stroke-width="4.2"/>
<text transform="translate(111.2 1145) scale(1 1.03)" text-anchor="middle" letter-spacing="-1.6">30</text>
<line x1="202.8" y1="1107.5" x2="202.8" y2="1114.7" stroke="#231f20" stroke-width="4.2"/>
<text transform="translate(203.4 1145) scale(1 1.03)" text-anchor="middle">0</text>
<line x1="296.2" y1="1107.5" x2="296.2" y2="1114.7" stroke="#231f20" stroke-width="4.2"/>
<text transform="translate(296.4 1145) scale(1 1.03)" text-anchor="middle" letter-spacing="-1.7">−30</text>
<line x1="389.2" y1="1107.5" x2="389.2" y2="1114.7" stroke="#231f20" stroke-width="4.2"/>
<text transform="translate(390.7 1145) scale(1 1.03)" text-anchor="middle" letter-spacing="-1.7">−60</text>
<line x1="481.7" y1="1107.5" x2="481.7" y2="1114.7" stroke="#231f20" stroke-width="4.2"/>
<text transform="translate(483.5 1145) scale(1 1.03)" text-anchor="middle" letter-spacing="-1.7">−90</text>
<clipPath id="clip2"><rect x="598" y="60.3" width="384.29999999999995" height="1044.9"/></clipPath>
<g clip-path="url(#clip2)">
<path d="M791.5 68.4 L789.9 81 L786.4 105.7 L782.2 130.6 L777.8 154.2 L774.1 180.3 L742.1 204 L742.9 228.4 L741.6 254.1 L741.4 277.6 L733.4 300.5 L728.1 328.1 L717.8 352.2 L703 376.2 L710.4 401.7 L708.2 424.4 L710.6 449 L718.2 473.5 L713.6 497.6 L711.2 521 L708 547.1 L706.9 574.6 L705.8 595.8 L701.6 612.3 L702.5 624.7 L699.7 649 L703.2 661.4 L704 679.1 L704.9 691.5 L704.7 716.3 L728.7 733 L723.8 769.2 L730.6 792.2 L778.8 792.2 L771.6 769.2 L775.9 733 L751.7 716.3 L751.5 691.5 L750.4 679.1 L749.2 661.4 L745.5 649 L747.9 624.7 L746.8 612.3 L750.6 595.8 L751.5 574.6 L752 547.1 L754.8 521 L756.8 497.6 L761 473.5 L753 449 L750.2 424.4 L752 401.7 L744.2 376.2 L758.6 352.2 L768.5 328.1 L773.2 300.5 L781 277.6 L780.8 254.1 L781.5 228.4 L780.3 204 L812.3 180.3 L816 154.2 L820.4 130.6 L824.6 105.7 L828.1 81 L829.7 68.4Z" fill="#3d48d4" fill-opacity="0.15"/>
<path d="M788.2 68.4 L784.4 81 L776.8 105.7 L767.5 130.6 L759.1 154.2 L751.3 180.3 L732.8 204 L736.9 228.4 L729.6 254.1 L740.3 277.6 L734.1 300.5 L725.8 328.1 L727.5 352.2 L714.1 376.2 L718.5 401.7 L714.5 424.4 L716.7 449 L722.6 473.5 L713.2 497.6 L699.4 521 L696.1 547.1 L708.3 574.6 L705.9 595.8 L703.3 612.3 L702.1 624.7 L693.8 649 L700.7 661.4 L706.9 679.1 L705.3 691.5 L702 716.3 L714.3 733 L720.1 769.2 L721.6 792.2 L789.8 792.2 L787.7 769.2 L781.1 733 L768.4 716.3 L771.1 691.5 L772.3 679.1 L765.7 661.4 L758.6 649 L766.3 624.7 L767.1 612.3 L769.3 595.8 L771.3 574.6 L758.3 547.1 L761 521 L774.4 497.6 L783.2 473.5 L776.7 449 L773.9 424.4 L777.3 401.7 L772.3 376.2 L785.1 352.2 L782.8 328.1 L790.5 300.5 L796.1 277.6 L784.8 254.1 L791.5 228.4 L786.8 204 L805.3 180.3 L813.1 154.2 L821.5 130.6 L830.8 105.7 L838.4 81 L842.2 68.4Z" fill="#0f9b5f" fill-opacity="0.15"/>
<path d="M750.9 68.4 L750.7 81 L750.2 105.7 L749.8 130.6 L749.6 154.2 L748.6 180.3 L740.9 204 L740.8 228.4 L740.1 254.1 L738.7 277.6 L735.2 300.5 L733.5 328.1 L731.9 352.2 L728.4 376.2 L727.7 401.7 L728.2 424.4 L728.6 449 L728.5 473.5 L727.4 497.6 L727.2 521 L727.3 547.1 L722.8 574.6 L723.3 595.8 L722.3 612.3 L722.3 624.7 L721.6 649 L722.1 661.4 L720.5 679.1 L722.9 691.5 L722 716.3 L725.9 733 L724.6 769.2 L725.2 792.2 L745.2 792.2 L744.6 769.2 L745.7 733 L741.6 716.3 L742.3 691.5 L739.9 679.1 L741.5 661.4 L740.8 649 L741.3 624.7 L741.3 612.3 L742.3 595.8 L741.6 574.6 L745.9 547.1 L745.6 521 L745.8 497.6 L746.7 473.5 L746.6 449 L746.2 424.4 L745.5 401.7 L746 376.2 L749.3 352.2 L750.9 328.1 L752.4 300.5 L755.7 277.6 L757.1 254.1 L757.6 228.4 L757.5 204 L765.2 180.3 L766.2 154.2 L766.4 130.6 L766.8 105.7 L767.3 81 L767.5 68.4Z" fill="#fdd444" fill-opacity="0.15"/>
<path d="M871.7 68.4 L871.2 81 L870.2 105.7 L869.1 130.6 L868.6 154.2 L866.1 180.3 L840.5 204 L839.2 228.4 L837.9 254.1 L834.6 277.6 L826.3 300.5 L820 328.1 L813.7 352.2 L806.4 376.2 L807.1 401.7 L807.8 424.4 L805.5 449 L808.2 473.5 L810 497.6 L807.7 521 L804.4 547.1 L799 574.6 L799.8 595.8 L798.6 612.3 L797.4 624.7 L796.2 649 L797 661.4 L795.8 679.1 L798.7 691.5 L803.4 716.3 L809.7 733 L799.7 769.2 L804.5 792.2 L882.5 792.2 L877.3 769.2 L886.3 733 L879.6 716.3 L874.3 691.5 L871.2 679.1 L872 661.4 L870.8 649 L871.6 624.7 L872.4 612.3 L873.2 595.8 L872 574.6 L876.6 547.1 L879.3 521 L881 497.6 L878.8 473.5 L875.5 449 L877.2 424.4 L875.9 401.7 L874.6 376.2 L881.3 352.2 L887 328.1 L892.7 300.5 L900.4 277.6 L903.1 254.1 L903.8 228.4 L904.5 204 L930.1 180.3 L932.6 154.2 L933.1 130.6 L934.2 105.7 L935.2 81 L935.7 68.4Z" fill="#fa6a0a" fill-opacity="0.15"/>
<path d="M888.5 68.4 L888.8 81 L886.3 105.7 L877.8 130.6 L870.4 154.2 L861 180.3 L834.4 204 L833.1 228.4 L831.3 254.1 L831.3 277.6 L821.1 300.5 L814.6 328.1 L809.2 352.2 L795.9 376.2 L801.5 401.7 L797.2 424.4 L798.8 449 L805.4 473.5 L799.1 497.6 L793.7 521 L788.3 547.1 L790.9 574.6 L788.2 595.8 L785.4 612.3 L784.2 624.7 L780.8 649 L783 661.4 L783.4 679.1 L785.6 691.5 L782.8 716.3 L799 733 L796 769.2 L799.7 792.2 L897.3 792.2 L893 769.2 L894.8 733 L878.2 716.3 L880.2 691.5 L877.6 679.1 L876.8 661.4 L874.2 649 L876.8 624.7 L877.6 612.3 L880 595.8 L882.1 574.6 L878.7 547.1 L883.3 521 L887.9 497.6 L893.6 473.5 L886.2 449 L883.8 424.4 L887.5 401.7 L881.1 376.2 L893.8 352.2 L898.4 328.1 L904.1 300.5 L913.7 277.6 L912.9 254.1 L913.9 228.4 L914.6 204 L941 180.3 L950.4 154.2 L957.8 130.6 L966.3 105.7 L968.8 81 L968.5 68.4Z" fill="#fb5fb0" fill-opacity="0.15"/>
<path d="M889.5 68.4 L890 81 L889.1 105.7 L884.4 130.6 L880.5 154.2 L877.1 180.3 L851.5 204 L851.3 228.4 L849.1 254.1 L849.5 277.6 L839.9 300.5 L833.6 328.1 L828.4 352.2 L818.2 376.2 L822.7 401.7 L820.9 424.4 L821.7 449 L826.5 473.5 L824.4 497.6 L821.2 521 L817.6 547.1 L817.4 574.6 L815.7 595.8 L813.5 612.3 L812.5 624.7 L811.3 649 L813.2 661.4 L812.7 679.1 L815 691.5 L813.4 716.3 L829.7 733 L824.8 769.2 L829.2 792.2 L889.8 792.2 L885 769.2 L889.3 733 L872.8 716.3 L874 691.5 L871.5 679.1 L871.8 661.4 L869.7 649 L870.5 624.7 L871.5 612.3 L873.3 595.8 L874.8 574.6 L874.6 547.1 L877.8 521 L880.6 497.6 L882.5 473.5 L877.3 449 L876.1 424.4 L877.5 401.7 L872.8 376.2 L882.6 352.2 L887.4 328.1 L893.3 300.5 L902.7 277.6 L901.9 254.1 L903.7 228.4 L903.5 204 L929.1 180.3 L932.5 154.2 L936.4 130.6 L941.1 105.7 L942 81 L941.5 68.4Z" fill="#bf5a8c" fill-opacity="0.15"/>
<path d="M902.5 68.4 L903 81 L902.7 105.7 L899.8 130.6 L897 154.2 L895 180.3 L870.5 204 L871 228.4 L869.9 254.1 L869.2 277.6 L860.8 300.5 L854.6 328.1 L849.5 352.2 L840.3 376.2 L844 401.7 L842.5 424.4 L844 449 L848 473.5 L847.3 497.6 L844.4 521 L842 547.1 L840.8 574.6 L840.2 595.8 L837.7 612.3 L837 624.7 L836.5 649 L837.5 661.4 L837.4 679.1 L840.3 691.5 L838.2 716.3 L856.2 733 L850.1 769.2 L855 792.2 L892.2 792.2 L887.1 769.2 L893 733 L874.8 716.3 L876.7 691.5 L873.6 679.1 L873.5 661.4 L872.5 649 L872.8 624.7 L873.3 612.3 L875.6 595.8 L876.2 574.6 L877 547.1 L879.2 521 L881.9 497.6 L882.4 473.5 L878.2 449 L876.5 424.4 L877.8 401.7 L873.9 376.2 L882.9 352.2 L887.8 328.1 L893.6 300.5 L901.8 277.6 L902.3 254.1 L903.2 228.4 L902.5 204 L927 180.3 L929 154.2 L931.8 130.6 L934.7 105.7 L935 81 L934.5 68.4Z" fill="#6558b1" fill-opacity="0.15"/>
<path d="M813.1 68.4 L812.3 81 L810.3 105.7 L807.9 130.6 L807.7 154.2 L804.3 180.3 L780.4 204 L778.1 228.4 L780.6 254.1 L772.5 277.6 L765.4 300.5 L760.6 328.1 L752.1 352.2 L749.6 376.2 L749.9 401.7 L750.8 424.4 L750.7 449 L751.2 473.5 L756.1 497.6 L758.7 521 L757.3 547.1 L749.1 574.6 L749 595.8 L749 612.3 L747.9 624.7 L750.4 649 L750.4 661.4 L748.3 679.1 L753.6 691.5 L755.5 716.3 L774.1 733 L784.4 769.2 L791.3 792.2 L821.5 792.2 L814.4 769.2 L803.9 733 L785.1 716.3 L783 691.5 L777.5 679.1 L779.4 661.4 L779.4 649 L776.7 624.7 L777.6 612.3 L777.6 595.8 L777.5 574.6 L785.3 547.1 L786.5 521 L783.7 497.6 L778.6 473.5 L777.9 449 L777.8 424.4 L776.7 401.7 L776.2 376.2 L778.5 352.2 L786.8 328.1 L791.2 300.5 L798.1 277.6 L806 254.1 L803.3 228.4 L805.4 204 L829.3 180.3 L832.7 154.2 L832.9 130.6 L835.3 105.7 L837.3 81 L838.1 68.4Z" fill="#fb8881" fill-opacity="0.15"/>
<line x1="696.9" y1="45.25" x2="696.9" y2="1105.2" stroke="#111" stroke-width="1.4" stroke-dasharray="30.5 30.95"/>
<path d="M876.1 68.4 L869.5 81 L854.5 105.7 L862.9 130.6 L856.1 154.2 L859.1 180.3 L823.8 204 L835.8 228.4 L824.8 254.1 L814.7 277.6 L800 300.5 L792.4 328.1 L796.4 352.2 L768.7 376.2 L754.3 401.7 L769.3 424.4 L772.7 449 L759.3 473.5 L745.2 497.6 L741.2 521 L750.9 547.1 L714.2 574.6 L716.2 595.8 L720.2 612.3 L713.2 624.7 L707.6 649 L706.1 661.4 L692.1 679.1 L721.2 691.5 L711.6 716.3 L711.2 733 L731.2 769.2 L717.8 792.2" fill="none" stroke="#000" stroke-width="1.5" stroke-linejoin="round"/>
<path d="M810.6 68.4 L809 81 L805.5 105.7 L801.3 130.6 L796.9 154.2 L793.2 180.3 L761.2 204" fill="none" stroke="#3d48d4" stroke-width="5" stroke-dasharray="6.7 20"/>
<path d="M761.2 204 L762.2 228.4 L761.2 254.1 L761.2 277.6 L753.3 300.5 L748.3 328.1 L738.2 352.2 L723.6 376.2 L731.2 401.7 L729.2 424.4 L731.8 449 L739.6 473.5 L735.2 497.6 L733 521 L730 547.1 L729.2 574.6 L728.2 595.8 L724.2 612.3 L725.2 624.7 L722.6 649 L726.2 661.4 L727.2 679.1 L728.2 691.5 L728.2 716.3 L752.3 733 L747.7 769.2 L754.7 792.2" fill="none" stroke="#3d48d4" stroke-width="4.4" stroke-linejoin="round"/>
<path d="M815.2 68.4 L811.4 81 L803.8 105.7 L794.5 130.6 L786.1 154.2 L778.3 180.3 L759.8 204" fill="none" stroke="#0f9b5f" stroke-width="5" stroke-dasharray="6.7 20"/>
<path d="M759.8 204 L764.2 228.4 L757.2 254.1 L768.2 277.6 L762.3 300.5 L754.3 328.1 L756.3 352.2 L743.2 376.2 L747.9 401.7 L744.2 424.4 L746.7 449 L752.9 473.5 L743.8 497.6 L730.2 521 L727.2 547.1 L739.8 574.6 L737.6 595.8 L735.2 612.3 L734.2 624.7 L726.2 649 L733.2 661.4 L739.6 679.1 L738.2 691.5 L735.2 716.3 L747.7 733 L753.9 769.2 L755.7 792.2" fill="none" stroke="#0f9b5f" stroke-width="4.4" stroke-linejoin="round"/>
<path d="M759.2 68.4 L759 81 L758.5 105.7 L758.1 130.6 L757.9 154.2 L756.9 180.3 L749.2 204" fill="none" stroke="#fdd444" stroke-width="5" stroke-dasharray="6.7 20"/>
<path d="M749.2 204 L749.2 228.4 L748.6 254.1 L747.2 277.6 L743.8 300.5 L742.2 328.1 L740.6 352.2 L737.2 376.2 L736.6 401.7 L737.2 424.4 L737.6 449 L737.6 473.5 L736.6 497.6 L736.4 521 L736.6 547.1 L732.2 574.6 L732.8 595.8 L731.8 612.3 L731.8 624.7 L731.2 649 L731.8 661.4 L730.2 679.1 L732.6 691.5 L731.8 716.3 L735.8 733 L734.6 769.2 L735.2 792.2" fill="none" stroke="#fdd444" stroke-width="4.4" stroke-linejoin="round"/>
<path d="M903.7 68.4 L903.2 81 L902.2 105.7 L901.1 130.6 L900.6 154.2 L898.1 180.3 L872.5 204" fill="none" stroke="#fa6a0a" stroke-width="5" stroke-dasharray="6.7 20"/>
<path d="M872.5 204 L871.5 228.4 L870.5 254.1 L867.5 277.6 L859.5 300.5 L853.5 328.1 L847.5 352.2 L840.5 376.2 L841.5 401.7 L842.5 424.4 L840.5 449 L843.5 473.5 L845.5 497.6 L843.5 521 L840.5 547.1 L835.5 574.6 L836.5 595.8 L835.5 612.3 L834.5 624.7 L833.5 649 L834.5 661.4 L833.5 679.1 L836.5 691.5 L841.5 716.3 L848 733 L838.5 769.2 L843.5 792.2" fill="none" stroke="#fa6a0a" stroke-width="4.4" stroke-linejoin="round"/>
<path d="M928.5 68.4 L928.8 81 L926.3 105.7 L917.8 130.6 L910.4 154.2 L901 180.3 L874.5 204" fill="none" stroke="#fb5fb0" stroke-width="5" stroke-dasharray="6.7 20"/>
<path d="M874.5 204 L873.5 228.4 L872.1 254.1 L872.5 277.6 L862.6 300.5 L856.5 328.1 L851.5 352.2 L838.5 376.2 L844.5 401.7 L840.5 424.4 L842.5 449 L849.5 473.5 L843.5 497.6 L838.5 521 L833.5 547.1 L836.5 574.6 L834.1 595.8 L831.5 612.3 L830.5 624.7 L827.5 649 L829.9 661.4 L830.5 679.1 L832.9 691.5 L830.5 716.3 L846.9 733 L844.5 769.2 L848.5 792.2" fill="none" stroke="#fb5fb0" stroke-width="4.4" stroke-linejoin="round"/>
<path d="M915.5 68.4 L916 81 L915.1 105.7 L910.4 130.6 L906.5 154.2 L903.1 180.3 L877.5 204" fill="none" stroke="#bf5a8c" stroke-width="5" stroke-dasharray="6.7 20"/>
<path d="M877.5 204 L877.5 228.4 L875.5 254.1 L876.1 277.6 L866.6 300.5 L860.5 328.1 L855.5 352.2 L845.5 376.2 L850.1 401.7 L848.5 424.4 L849.5 449 L854.5 473.5 L852.5 497.6 L849.5 521 L846.1 547.1 L846.1 574.6 L844.5 595.8 L842.5 612.3 L841.5 624.7 L840.5 649 L842.5 661.4 L842.1 679.1 L844.5 691.5 L843.1 716.3 L859.5 733 L854.9 769.2 L859.5 792.2" fill="none" stroke="#bf5a8c" stroke-width="4.4" stroke-linejoin="round"/>
<path d="M918.5 68.4 L919 81 L918.7 105.7 L915.8 130.6 L913 154.2 L911 180.3 L886.5 204" fill="none" stroke="#6558b1" stroke-width="5" stroke-dasharray="6.7 20"/>
<path d="M886.5 204 L887.1 228.4 L886.1 254.1 L885.5 277.6 L877.2 300.5 L871.2 328.1 L866.2 352.2 L857.1 376.2 L860.9 401.7 L859.5 424.4 L861.1 449 L865.2 473.5 L864.6 497.6 L861.8 521 L859.5 547.1 L858.5 574.6 L857.9 595.8 L855.5 612.3 L854.9 624.7 L854.5 649 L855.5 661.4 L855.5 679.1 L858.5 691.5 L856.5 716.3 L874.6 733 L868.6 769.2 L873.6 792.2" fill="none" stroke="#6558b1" stroke-width="4.4" stroke-linejoin="round"/>
<path d="M825.6 68.4 L824.8 81 L822.8 105.7 L820.4 130.6 L820.2 154.2 L816.8 180.3 L792.9 204" fill="none" stroke="#fb8881" stroke-width="5" stroke-dasharray="6.7 20"/>
<path d="M792.9 204 L790.7 228.4 L793.3 254.1 L785.3 277.6 L778.3 300.5 L773.7 328.1 L765.3 352.2 L762.9 376.2 L763.3 401.7 L764.3 424.4 L764.3 449 L764.9 473.5 L769.9 497.6 L772.6 521 L771.3 547.1 L763.3 574.6 L763.3 595.8 L763.3 612.3 L762.3 624.7 L764.9 649 L764.9 661.4 L762.9 679.1 L768.3 691.5 L770.3 716.3 L789 733 L799.4 769.2 L806.4 792.2" fill="none" stroke="#fb8881" stroke-width="4.4" stroke-linejoin="round"/>
<g fill="#000000" stroke="#000" stroke-width="1.45" stroke-linejoin="miter"><rect x="818.5" y="198.3" width="10.6" height="11.3"/><rect x="830.5" y="222.8" width="10.6" height="11.3"/><rect x="819.5" y="248.4" width="10.6" height="11.3"/><rect x="809.4" y="272" width="10.6" height="11.3"/><rect x="794.7" y="294.9" width="10.6" height="11.3"/><rect x="787.1" y="322.5" width="10.6" height="11.3"/><rect x="791.1" y="346.6" width="10.6" height="11.3"/><rect x="763.4" y="370.6" width="10.6" height="11.3"/><rect x="749" y="396.1" width="10.6" height="11.3"/><rect x="764" y="418.8" width="10.6" height="11.3"/><rect x="767.4" y="443.4" width="10.6" height="11.3"/><rect x="754" y="467.9" width="10.6" height="11.3"/><rect x="739.9" y="492" width="10.6" height="11.3"/><rect x="735.9" y="515.4" width="10.6" height="11.3"/><rect x="745.6" y="541.5" width="10.6" height="11.3"/><rect x="708.9" y="569" width="10.6" height="11.3"/><rect x="710.9" y="590.1" width="10.6" height="11.3"/><rect x="714.9" y="606.6" width="10.6" height="11.3"/><rect x="707.9" y="619.1" width="10.6" height="11.3"/><rect x="702.3" y="643.4" width="10.6" height="11.3"/><rect x="700.8" y="655.8" width="10.6" height="11.3"/><rect x="686.8" y="673.5" width="10.6" height="11.3"/><rect x="715.9" y="685.9" width="10.6" height="11.3"/><rect x="706.3" y="710.6" width="10.6" height="11.3"/><rect x="705.9" y="727.4" width="10.6" height="11.3"/><rect x="725.9" y="763.6" width="10.6" height="11.3"/><rect x="712.5" y="786.6" width="10.6" height="11.3"/></g>
<g fill="#3d48d4" stroke="#000" stroke-width="1.45" stroke-linejoin="miter"><rect x="755.9" y="198.3" width="10.6" height="11.3"/><rect x="756.9" y="222.8" width="10.6" height="11.3"/><rect x="755.9" y="248.4" width="10.6" height="11.3"/><rect x="755.9" y="272" width="10.6" height="11.3"/><rect x="748" y="294.9" width="10.6" height="11.3"/><rect x="743" y="322.5" width="10.6" height="11.3"/><rect x="732.9" y="346.6" width="10.6" height="11.3"/><rect x="718.3" y="370.6" width="10.6" height="11.3"/><rect x="725.9" y="396.1" width="10.6" height="11.3"/><rect x="723.9" y="418.8" width="10.6" height="11.3"/><rect x="726.5" y="443.4" width="10.6" height="11.3"/><rect x="734.3" y="467.9" width="10.6" height="11.3"/><rect x="729.9" y="492" width="10.6" height="11.3"/><rect x="727.7" y="515.4" width="10.6" height="11.3"/><rect x="724.7" y="541.5" width="10.6" height="11.3"/><rect x="723.9" y="569" width="10.6" height="11.3"/><rect x="722.9" y="590.1" width="10.6" height="11.3"/><rect x="718.9" y="606.6" width="10.6" height="11.3"/><rect x="719.9" y="619.1" width="10.6" height="11.3"/><rect x="717.3" y="643.4" width="10.6" height="11.3"/><rect x="720.9" y="655.8" width="10.6" height="11.3"/><rect x="721.9" y="673.5" width="10.6" height="11.3"/><rect x="722.9" y="685.9" width="10.6" height="11.3"/><rect x="722.9" y="710.6" width="10.6" height="11.3"/><rect x="747" y="727.4" width="10.6" height="11.3"/><rect x="742.4" y="763.6" width="10.6" height="11.3"/><rect x="749.4" y="786.6" width="10.6" height="11.3"/></g>
<g fill="#0f9b5f" stroke="#000" stroke-width="1.45" stroke-linejoin="miter"><ellipse cx="759.8" cy="204" rx="6" ry="6.4"/><ellipse cx="764.2" cy="228.4" rx="6" ry="6.4"/><ellipse cx="757.2" cy="254.1" rx="6" ry="6.4"/><ellipse cx="768.2" cy="277.6" rx="6" ry="6.4"/><ellipse cx="762.3" cy="300.5" rx="6" ry="6.4"/><ellipse cx="754.3" cy="328.1" rx="6" ry="6.4"/><ellipse cx="756.3" cy="352.2" rx="6" ry="6.4"/><ellipse cx="743.2" cy="376.2" rx="6" ry="6.4"/><ellipse cx="747.9" cy="401.7" rx="6" ry="6.4"/><ellipse cx="744.2" cy="424.4" rx="6" ry="6.4"/><ellipse cx="746.7" cy="449" rx="6" ry="6.4"/><ellipse cx="752.9" cy="473.5" rx="6" ry="6.4"/><ellipse cx="743.8" cy="497.6" rx="6" ry="6.4"/><ellipse cx="730.2" cy="521" rx="6" ry="6.4"/><ellipse cx="727.2" cy="547.1" rx="6" ry="6.4"/><ellipse cx="739.8" cy="574.6" rx="6" ry="6.4"/><ellipse cx="737.6" cy="595.8" rx="6" ry="6.4"/><ellipse cx="735.2" cy="612.3" rx="6" ry="6.4"/><ellipse cx="734.2" cy="624.7" rx="6" ry="6.4"/><ellipse cx="726.2" cy="649" rx="6" ry="6.4"/><ellipse cx="733.2" cy="661.4" rx="6" ry="6.4"/><ellipse cx="739.6" cy="679.1" rx="6" ry="6.4"/><ellipse cx="738.2" cy="691.5" rx="6" ry="6.4"/><ellipse cx="735.2" cy="716.3" rx="6" ry="6.4"/><ellipse cx="747.7" cy="733" rx="6" ry="6.4"/><ellipse cx="753.9" cy="769.2" rx="6" ry="6.4"/><ellipse cx="755.7" cy="792.2" rx="6" ry="6.4"/></g>
<g fill="#fdd444" stroke="#000" stroke-width="1.45" stroke-linejoin="miter"><path d="M749.2 195.5L756.5 204L749.2 212.5L741.9 204Z"/><path d="M749.2 219.9L756.5 228.4L749.2 236.9L741.9 228.4Z"/><path d="M748.6 245.6L755.9 254.1L748.6 262.6L741.3 254.1Z"/><path d="M747.2 269.1L754.5 277.6L747.2 286.1L739.9 277.6Z"/><path d="M743.8 292L751.1 300.5L743.8 309L736.5 300.5Z"/><path d="M742.2 319.6L749.5 328.1L742.2 336.6L734.9 328.1Z"/><path d="M740.6 343.7L747.9 352.2L740.6 360.7L733.3 352.2Z"/><path d="M737.2 367.7L744.5 376.2L737.2 384.7L729.9 376.2Z"/><path d="M736.6 393.2L743.9 401.7L736.6 410.2L729.3 401.7Z"/><path d="M737.2 415.9L744.5 424.4L737.2 432.9L729.9 424.4Z"/><path d="M737.6 440.5L744.9 449L737.6 457.5L730.3 449Z"/><path d="M737.6 465L744.9 473.5L737.6 482L730.3 473.5Z"/><path d="M736.6 489.1L743.9 497.6L736.6 506.1L729.3 497.6Z"/><path d="M736.4 512.5L743.7 521L736.4 529.5L729.1 521Z"/><path d="M736.6 538.6L743.9 547.1L736.6 555.6L729.3 547.1Z"/><path d="M732.2 566.1L739.5 574.6L732.2 583.1L724.9 574.6Z"/><path d="M732.8 587.3L740.1 595.8L732.8 604.3L725.5 595.8Z"/><path d="M731.8 603.8L739.1 612.3L731.8 620.8L724.5 612.3Z"/><path d="M731.8 616.2L739.1 624.7L731.8 633.2L724.5 624.7Z"/><path d="M731.2 640.5L738.5 649L731.2 657.5L723.9 649Z"/><path d="M731.8 652.9L739.1 661.4L731.8 669.9L724.5 661.4Z"/><path d="M730.2 670.6L737.5 679.1L730.2 687.6L722.9 679.1Z"/><path d="M732.6 683L739.9 691.5L732.6 700L725.3 691.5Z"/><path d="M731.8 707.8L739.1 716.3L731.8 724.8L724.5 716.3Z"/><path d="M735.8 724.5L743.1 733L735.8 741.5L728.5 733Z"/><path d="M734.6 760.7L741.9 769.2L734.6 777.7L727.3 769.2Z"/><path d="M735.2 783.7L742.5 792.2L735.2 800.7L727.9 792.2Z"/></g>
<g fill="#fa6a0a" stroke="#000" stroke-width="1.45" stroke-linejoin="miter"><path d="M872.5 195.5L879.8 204L872.5 212.5L865.2 204Z"/><path d="M871.5 219.9L878.8 228.4L871.5 236.9L864.2 228.4Z"/><path d="M870.5 245.6L877.8 254.1L870.5 262.6L863.2 254.1Z"/><path d="M867.5 269.1L874.8 277.6L867.5 286.1L860.2 277.6Z"/><path d="M859.5 292L866.8 300.5L859.5 309L852.2 300.5Z"/><path d="M853.5 319.6L860.8 328.1L853.5 336.6L846.2 328.1Z"/><path d="M847.5 343.7L854.8 352.2L847.5 360.7L840.2 352.2Z"/><path d="M840.5 367.7L847.8 376.2L840.5 384.7L833.2 376.2Z"/><path d="M841.5 393.2L848.8 401.7L841.5 410.2L834.2 401.7Z"/><path d="M842.5 415.9L849.8 424.4L842.5 432.9L835.2 424.4Z"/><path d="M840.5 440.5L847.8 449L840.5 457.5L833.2 449Z"/><path d="M843.5 465L850.8 473.5L843.5 482L836.2 473.5Z"/><path d="M845.5 489.1L852.8 497.6L845.5 506.1L838.2 497.6Z"/><path d="M843.5 512.5L850.8 521L843.5 529.5L836.2 521Z"/><path d="M840.5 538.6L847.8 547.1L840.5 555.6L833.2 547.1Z"/><path d="M835.5 566.1L842.8 574.6L835.5 583.1L828.2 574.6Z"/><path d="M836.5 587.3L843.8 595.8L836.5 604.3L829.2 595.8Z"/><path d="M835.5 603.8L842.8 612.3L835.5 620.8L828.2 612.3Z"/><path d="M834.5 616.2L841.8 624.7L834.5 633.2L827.2 624.7Z"/><path d="M833.5 640.5L840.8 649L833.5 657.5L826.2 649Z"/><path d="M834.5 652.9L841.8 661.4L834.5 669.9L827.2 661.4Z"/><path d="M833.5 670.6L840.8 679.1L833.5 687.6L826.2 679.1Z"/><path d="M836.5 683L843.8 691.5L836.5 700L829.2 691.5Z"/><path d="M841.5 707.8L848.8 716.3L841.5 724.8L834.2 716.3Z"/><path d="M848 724.5L855.3 733L848 741.5L840.7 733Z"/><path d="M838.5 760.7L845.8 769.2L838.5 777.7L831.2 769.2Z"/><path d="M843.5 783.7L850.8 792.2L843.5 800.7L836.2 792.2Z"/></g>
<g fill="#fb5fb0" stroke="#000" stroke-width="1.45" stroke-linejoin="miter"><path d="M874.5 195.5L881.8 204L874.5 212.5L867.2 204Z"/><path d="M873.5 219.9L880.8 228.4L873.5 236.9L866.2 228.4Z"/><path d="M872.1 245.6L879.4 254.1L872.1 262.6L864.8 254.1Z"/><path d="M872.5 269.1L879.8 277.6L872.5 286.1L865.2 277.6Z"/><path d="M862.6 292L869.9 300.5L862.6 309L855.3 300.5Z"/><path d="M856.5 319.6L863.8 328.1L856.5 336.6L849.2 328.1Z"/><path d="M851.5 343.7L858.8 352.2L851.5 360.7L844.2 352.2Z"/><path d="M838.5 367.7L845.8 376.2L838.5 384.7L831.2 376.2Z"/><path d="M844.5 393.2L851.8 401.7L844.5 410.2L837.2 401.7Z"/><path d="M840.5 415.9L847.8 424.4L840.5 432.9L833.2 424.4Z"/><path d="M842.5 440.5L849.8 449L842.5 457.5L835.2 449Z"/><path d="M849.5 465L856.8 473.5L849.5 482L842.2 473.5Z"/><path d="M843.5 489.1L850.8 497.6L843.5 506.1L836.2 497.6Z"/><path d="M838.5 512.5L845.8 521L838.5 529.5L831.2 521Z"/><path d="M833.5 538.6L840.8 547.1L833.5 555.6L826.2 547.1Z"/><path d="M836.5 566.1L843.8 574.6L836.5 583.1L829.2 574.6Z"/><path d="M834.1 587.3L841.4 595.8L834.1 604.3L826.8 595.8Z"/><path d="M831.5 603.8L838.8 612.3L831.5 620.8L824.2 612.3Z"/><path d="M830.5 616.2L837.8 624.7L830.5 633.2L823.2 624.7Z"/><path d="M827.5 640.5L834.8 649L827.5 657.5L820.2 649Z"/><path d="M829.9 652.9L837.2 661.4L829.9 669.9L822.6 661.4Z"/><path d="M830.5 670.6L837.8 679.1L830.5 687.6L823.2 679.1Z"/><path d="M832.9 683L840.2 691.5L832.9 700L825.6 691.5Z"/><path d="M830.5 707.8L837.8 716.3L830.5 724.8L823.2 716.3Z"/><path d="M846.9 724.5L854.2 733L846.9 741.5L839.6 733Z"/><path d="M844.5 760.7L851.8 769.2L844.5 777.7L837.2 769.2Z"/><path d="M848.5 783.7L855.8 792.2L848.5 800.7L841.2 792.2Z"/></g>
<g fill="#bf5a8c" stroke="#000" stroke-width="1.45" stroke-linejoin="miter"><path d="M877.5 195.5L884.8 204L877.5 212.5L870.2 204Z"/><path d="M877.5 219.9L884.8 228.4L877.5 236.9L870.2 228.4Z"/><path d="M875.5 245.6L882.8 254.1L875.5 262.6L868.2 254.1Z"/><path d="M876.1 269.1L883.4 277.6L876.1 286.1L868.8 277.6Z"/><path d="M866.6 292L873.9 300.5L866.6 309L859.3 300.5Z"/><path d="M860.5 319.6L867.8 328.1L860.5 336.6L853.2 328.1Z"/><path d="M855.5 343.7L862.8 352.2L855.5 360.7L848.2 352.2Z"/><path d="M845.5 367.7L852.8 376.2L845.5 384.7L838.2 376.2Z"/><path d="M850.1 393.2L857.4 401.7L850.1 410.2L842.8 401.7Z"/><path d="M848.5 415.9L855.8 424.4L848.5 432.9L841.2 424.4Z"/><path d="M849.5 440.5L856.8 449L849.5 457.5L842.2 449Z"/><path d="M854.5 465L861.8 473.5L854.5 482L847.2 473.5Z"/><path d="M852.5 489.1L859.8 497.6L852.5 506.1L845.2 497.6Z"/><path d="M849.5 512.5L856.8 521L849.5 529.5L842.2 521Z"/><path d="M846.1 538.6L853.4 547.1L846.1 555.6L838.8 547.1Z"/><path d="M846.1 566.1L853.4 574.6L846.1 583.1L838.8 574.6Z"/><path d="M844.5 587.3L851.8 595.8L844.5 604.3L837.2 595.8Z"/><path d="M842.5 603.8L849.8 612.3L842.5 620.8L835.2 612.3Z"/><path d="M841.5 616.2L848.8 624.7L841.5 633.2L834.2 624.7Z"/><path d="M840.5 640.5L847.8 649L840.5 657.5L833.2 649Z"/><path d="M842.5 652.9L849.8 661.4L842.5 669.9L835.2 661.4Z"/><path d="M842.1 670.6L849.4 679.1L842.1 687.6L834.8 679.1Z"/><path d="M844.5 683L851.8 691.5L844.5 700L837.2 691.5Z"/><path d="M843.1 707.8L850.4 716.3L843.1 724.8L835.8 716.3Z"/><path d="M859.5 724.5L866.8 733L859.5 741.5L852.2 733Z"/><path d="M854.9 760.7L862.2 769.2L854.9 777.7L847.6 769.2Z"/><path d="M859.5 783.7L866.8 792.2L859.5 800.7L852.2 792.2Z"/></g>
<g fill="#6558b1" stroke="#000" stroke-width="1.45" stroke-linejoin="miter"><path d="M886.5 195.5L893.8 204L886.5 212.5L879.2 204Z"/><path d="M887.1 219.9L894.4 228.4L887.1 236.9L879.8 228.4Z"/><path d="M886.1 245.6L893.4 254.1L886.1 262.6L878.8 254.1Z"/><path d="M885.5 269.1L892.8 277.6L885.5 286.1L878.2 277.6Z"/><path d="M877.2 292L884.5 300.5L877.2 309L869.9 300.5Z"/><path d="M871.2 319.6L878.5 328.1L871.2 336.6L863.9 328.1Z"/><path d="M866.2 343.7L873.5 352.2L866.2 360.7L858.9 352.2Z"/><path d="M857.1 367.7L864.4 376.2L857.1 384.7L849.8 376.2Z"/><path d="M860.9 393.2L868.2 401.7L860.9 410.2L853.6 401.7Z"/><path d="M859.5 415.9L866.8 424.4L859.5 432.9L852.2 424.4Z"/><path d="M861.1 440.5L868.4 449L861.1 457.5L853.8 449Z"/><path d="M865.2 465L872.5 473.5L865.2 482L857.9 473.5Z"/><path d="M864.6 489.1L871.9 497.6L864.6 506.1L857.3 497.6Z"/><path d="M861.8 512.5L869.1 521L861.8 529.5L854.5 521Z"/><path d="M859.5 538.6L866.8 547.1L859.5 555.6L852.2 547.1Z"/><path d="M858.5 566.1L865.8 574.6L858.5 583.1L851.2 574.6Z"/><path d="M857.9 587.3L865.2 595.8L857.9 604.3L850.6 595.8Z"/><path d="M855.5 603.8L862.8 612.3L855.5 620.8L848.2 612.3Z"/><path d="M854.9 616.2L862.2 624.7L854.9 633.2L847.6 624.7Z"/><path d="M854.5 640.5L861.8 649L854.5 657.5L847.2 649Z"/><path d="M855.5 652.9L862.8 661.4L855.5 669.9L848.2 661.4Z"/><path d="M855.5 670.6L862.8 679.1L855.5 687.6L848.2 679.1Z"/><path d="M858.5 683L865.8 691.5L858.5 700L851.2 691.5Z"/><path d="M856.5 707.8L863.8 716.3L856.5 724.8L849.2 716.3Z"/><path d="M874.6 724.5L881.9 733L874.6 741.5L867.3 733Z"/><path d="M868.6 760.7L875.9 769.2L868.6 777.7L861.3 769.2Z"/><path d="M873.6 783.7L880.9 792.2L873.6 800.7L866.3 792.2Z"/></g>
<g fill="#fb8881" stroke="#000" stroke-width="1.45" stroke-linejoin="miter"><path d="M792.9 195.5L800.2 204L792.9 212.5L785.6 204Z"/><path d="M790.7 219.9L798 228.4L790.7 236.9L783.4 228.4Z"/><path d="M793.3 245.6L800.6 254.1L793.3 262.6L786 254.1Z"/><path d="M785.3 269.1L792.6 277.6L785.3 286.1L778 277.6Z"/><path d="M778.3 292L785.6 300.5L778.3 309L771 300.5Z"/><path d="M773.7 319.6L781 328.1L773.7 336.6L766.4 328.1Z"/><path d="M765.3 343.7L772.6 352.2L765.3 360.7L758 352.2Z"/><path d="M762.9 367.7L770.2 376.2L762.9 384.7L755.6 376.2Z"/><path d="M763.3 393.2L770.6 401.7L763.3 410.2L756 401.7Z"/><path d="M764.3 415.9L771.6 424.4L764.3 432.9L757 424.4Z"/><path d="M764.3 440.5L771.6 449L764.3 457.5L757 449Z"/><path d="M764.9 465L772.2 473.5L764.9 482L757.6 473.5Z"/><path d="M769.9 489.1L777.2 497.6L769.9 506.1L762.6 497.6Z"/><path d="M772.6 512.5L779.9 521L772.6 529.5L765.3 521Z"/><path d="M771.3 538.6L778.6 547.1L771.3 555.6L764 547.1Z"/><path d="M763.3 566.1L770.6 574.6L763.3 583.1L756 574.6Z"/><path d="M763.3 587.3L770.6 595.8L763.3 604.3L756 595.8Z"/><path d="M763.3 603.8L770.6 612.3L763.3 620.8L756 612.3Z"/><path d="M762.3 616.2L769.6 624.7L762.3 633.2L755 624.7Z"/><path d="M764.9 640.5L772.2 649L764.9 657.5L757.6 649Z"/><path d="M764.9 652.9L772.2 661.4L764.9 669.9L757.6 661.4Z"/><path d="M762.9 670.6L770.2 679.1L762.9 687.6L755.6 679.1Z"/><path d="M768.3 683L775.6 691.5L768.3 700L761 691.5Z"/><path d="M770.3 707.8L777.6 716.3L770.3 724.8L763 716.3Z"/><path d="M789 724.5L796.3 733L789 741.5L781.7 733Z"/><path d="M799.4 760.7L806.7 769.2L799.4 777.7L792.1 769.2Z"/><path d="M806.4 783.7L813.7 792.2L806.4 800.7L799.1 792.2Z"/></g>
<rect x="594" y="323.9" width="392" height="26.2" fill="#000" fill-opacity="0.31"/><line x1="594" y1="323.9" x2="986" y2="323.9" stroke="#000" stroke-width="1.3"/><line x1="594" y1="350.1" x2="986" y2="350.1" stroke="#000" stroke-width="1.3"/>
<rect x="594" y="945" width="392" height="165" fill="#000"/>
</g>
<rect x="598" y="60.3" width="384.3" height="1044.9" fill="none" stroke="#000" stroke-width="4.6"/>
<line x1="588.7" y1="65.5" x2="595.7" y2="65.5" stroke="#231f20" stroke-width="4.2"/>
<text transform="translate(580.4 77) scale(1 1.03)" text-anchor="end">0</text>
<line x1="588.7" y1="194.8" x2="595.7" y2="194.8" stroke="#231f20" stroke-width="4.2"/>
<text transform="translate(582.1 206.3) scale(1 1.03)" text-anchor="end">50</text>
<line x1="588.7" y1="324.2" x2="595.7" y2="324.2" stroke="#231f20" stroke-width="4.2"/>
<text transform="translate(583.9 335.7) scale(1 1.03)" text-anchor="end">100</text>
<line x1="588.7" y1="453.5" x2="595.7" y2="453.5" stroke="#231f20" stroke-width="4.2"/>
<text transform="translate(583.9 465) scale(1 1.03)" text-anchor="end">150</text>
<line x1="588.7" y1="582.9" x2="595.7" y2="582.9" stroke="#231f20" stroke-width="4.2"/>
<text transform="translate(583.9 594.4) scale(1 1.03)" text-anchor="end">200</text>
<line x1="588.7" y1="712.2" x2="595.7" y2="712.2" stroke="#231f20" stroke-width="4.2"/>
<text transform="translate(583.9 723.7) scale(1 1.03)" text-anchor="end">250</text>
<line x1="588.7" y1="841.5" x2="595.7" y2="841.5" stroke="#231f20" stroke-width="4.2"/>
<text transform="translate(583.9 853) scale(1 1.03)" text-anchor="end">300</text>
<line x1="588.7" y1="970.9" x2="595.7" y2="970.9" stroke="#231f20" stroke-width="4.2"/>
<text transform="translate(583.9 982.4) scale(1 1.03)" text-anchor="end">350</text>
<line x1="588.7" y1="1100.2" x2="595.7" y2="1100.2" stroke="#231f20" stroke-width="4.2"/>
<text transform="translate(583.9 1111.7) scale(1 1.03)" text-anchor="end">400</text>
<line x1="604" y1="1107.5" x2="604" y2="1114.7" stroke="#231f20" stroke-width="4.2"/>
<text transform="translate(605.2 1145) scale(1 1.03)" text-anchor="middle" letter-spacing="-1.6">30</text>
<line x1="697.3" y1="1107.5" x2="697.3" y2="1114.7" stroke="#231f20" stroke-width="4.2"/>
<text transform="translate(697.9 1145) scale(1 1.03)" text-anchor="middle">0</text>
<line x1="790" y1="1107.5" x2="790" y2="1114.7" stroke="#231f20" stroke-width="4.2"/>
<text transform="translate(790.2 1145) scale(1 1.03)" text-anchor="middle" letter-spacing="-1.7">−30</text>
<line x1="882.7" y1="1107.5" x2="882.7" y2="1114.7" stroke="#231f20" stroke-width="4.2"/>
<text transform="translate(884.2 1145) scale(1 1.03)" text-anchor="middle" letter-spacing="-1.7">−60</text>
<line x1="976" y1="1107.5" x2="976" y2="1114.7" stroke="#231f20" stroke-width="4.2"/>
<text transform="translate(977.8 1145) scale(1 1.03)" text-anchor="middle" letter-spacing="-1.7">−90</text>
<clipPath id="clip3"><rect x="1092.4" y="60.3" width="384.29999999999995" height="490.7"/></clipPath>
<g clip-path="url(#clip3)">
<path d="M1293.3 70 L1288.7 85.1 L1283.4 108.1 L1281.8 128.2 L1279.4 153.2 L1254.6 175.9 L1250.1 187 L1257.2 199.4 L1243.6 221.4 L1244.9 244.5 L1237.9 267.1 L1244.4 289.6 L1236.3 312.5 L1229.9 326.7 L1225.8 335.2 L1205.7 345.2 L1203.6 369.7 L1188.6 380.9 L1182.4 426.4 L1230.2 426.4 L1236 380.9 L1251 369.7 L1252.9 345.2 L1273 335.2 L1276.9 326.7 L1283.3 312.5 L1291.2 289.6 L1284.5 267.1 L1291.5 244.5 L1290 221.4 L1303.4 199.4 L1295.6 187 L1299.5 175.9 L1323 153.2 L1324 128.2 L1324.5 108.1 L1328.5 85.1 L1333.1 70Z" fill="#3d48d4" fill-opacity="0.15"/>
<path d="M1288.4 70 L1274.3 85.1 L1261.6 108.1 L1255.7 128.2 L1246.3 153.2 L1235.3 175.9 L1233 187 L1239.6 199.4 L1222.4 221.4 L1226.3 244.5 L1212.2 267.1 L1228.7 289.6 L1221.2 312.5 L1207.1 326.7 L1207.1 335.2 L1180.5 345.2 L1194.8 369.7 L1189.8 380.9 L1172.5 426.4 L1240 426.4 L1256.8 380.9 L1261.8 369.7 L1247.3 345.2 L1273.7 335.2 L1273.7 326.7 L1287.6 312.5 L1294.9 289.6 L1278.2 267.1 L1292.1 244.5 L1288 221.4 L1304.8 199.4 L1297.3 187 L1298.7 175.9 L1307.9 153.2 L1315.3 128.2 L1319.7 108.1 L1330.5 85.1 L1344.6 70Z" fill="#0f9b5f" fill-opacity="0.15"/>
<path d="M1244.7 70 L1244.1 85.1 L1243 108.1 L1242 128.2 L1240.7 153.2 L1232.9 175.9 L1231.9 187 L1231.8 199.4 L1229.5 221.4 L1226.4 244.5 L1225 267.1 L1222.2 289.6 L1220.5 312.5 L1220.5 326.7 L1214.4 345.2 L1211 369.7 L1206 380.9 L1226.6 380.9 L1231.6 369.7 L1235 345.2 L1240.9 326.7 L1240.9 312.5 L1242.6 289.6 L1245.2 267.1 L1246.6 244.5 L1249.7 221.4 L1251.8 199.4 L1251.7 187 L1252.4 175.9 L1259.7 153.2 L1260.3 128.2 L1260.8 108.1 L1261.4 85.1 L1261.9 70Z" fill="#fdd444" fill-opacity="0.15"/>
<path d="M1365.5 70 L1364.7 85.1 L1362.5 108.1 L1360.8 128.2 L1358.7 153.2 L1336.4 175.9 L1333 187 L1329.2 199.4 L1323.7 221.4 L1320.9 244.5 L1315.4 267.1 L1311.3 289.6 L1305.2 312.5 L1301.2 326.7 L1297.1 335.2 L1291.1 345.2 L1282.9 369.7 L1270.8 380.9 L1261.5 426.4 L1341.5 426.4 L1350.2 380.9 L1362.3 369.7 L1370.1 345.2 L1376.1 335.2 L1380 326.7 L1384 312.5 L1389.7 289.6 L1393.6 267.1 L1398.9 244.5 L1401.3 221.4 L1406.6 199.4 L1409.2 187 L1411.6 175.9 L1431.7 153.2 L1431.5 128.2 L1431.3 108.1 L1431.3 85.1 L1432.1 70Z" fill="#fa6a0a" fill-opacity="0.15"/>
<path d="M1387 85 L1387 85.1 L1375.8 108.1 L1370 128.2 L1359.3 153.2 L1338.8 175.9 L1332.4 187 L1332.1 199.4 L1320.9 221.4 L1319.8 244.5 L1309 267.1 L1314.9 289.6 L1304.5 312.5 L1297.7 326.7 L1296.2 335.2 L1273.2 345.2 L1268 369.7 L1253.8 380.9 L1243.5 426.4 L1343.5 426.4 L1353.2 380.9 L1367.2 369.7 L1372 345.2 L1395 335.2 L1396.3 326.7 L1402.9 312.5 L1412.9 289.6 L1406.8 267.1 L1417.2 244.5 L1418.1 221.4 L1428.9 199.4 L1427.7 187 L1432.7 175.9 L1450.6 153.2 L1458.4 128.2 L1461.8 108.1 L1470.3 85.1 L1470.3 85Z" fill="#fb5fb0" fill-opacity="0.15"/>
<path d="M1393.5 70 L1389 85.1 L1383.4 108.1 L1381.2 128.2 L1378.4 153.2 L1357.5 175.9 L1354.7 187 L1351.5 199.4 L1344.5 221.4 L1343.2 244.5 L1337.1 267.1 L1338.2 289.6 L1331.3 312.5 L1328.7 326.7 L1324.6 335.2 L1309.5 345.2 L1302.4 369.7 L1290.3 380.9 L1284.7 426.4 L1349.7 426.4 L1354.9 380.9 L1366.8 369.7 L1373.7 345.2 L1388.8 335.2 L1392.7 326.7 L1395.3 312.5 L1402 289.6 L1400.7 267.1 L1406.6 244.5 L1407.7 221.4 L1414.3 199.4 L1416.6 187 L1418.6 175.9 L1437.7 153.2 L1438.6 128.2 L1439.3 108.1 L1443.1 85.1 L1447.5 70Z" fill="#bf5a8c" fill-opacity="0.15"/>
<path d="M1405.1 70 L1402.7 85.1 L1399.8 108.1 L1398.9 128.2 L1397.7 153.2 L1377.4 175.9 L1375.4 187 L1373.3 199.4 L1368.7 221.4 L1367 244.5 L1362.9 267.1 L1362.2 289.6 L1356.6 312.5 L1355.4 326.7 L1351 335.2 L1337.9 345.2 L1331.9 369.7 L1319.7 380.9 L1315.6 426.4 L1355.6 426.4 L1359.5 380.9 L1371.5 369.7 L1377.5 345.2 L1390.4 335.2 L1394.8 326.7 L1396 312.5 L1401.4 289.6 L1402.1 267.1 L1406 244.5 L1407.5 221.4 L1411.9 199.4 L1413.5 187 L1414.9 175.9 L1434.2 153.2 L1434.3 128.2 L1434.2 108.1 L1436 85.1 L1438.3 70Z" fill="#6558b1" fill-opacity="0.15"/>
<path d="M1315.4 70 L1312.2 85.1 L1308.5 108.1 L1307.1 128.2 L1305.1 153.2 L1284.4 175.9 L1280.7 187 L1276.6 199.4 L1276.1 221.4 L1272.5 244.5 L1273 267.1 L1262 289.6 L1258.1 312.5 L1261.5 326.7 L1254 335.2 L1252 345.2 L1267 369.7 L1258 380.9 L1257.3 426.4 L1288.5 426.4 L1289 380.9 L1298 369.7 L1282.8 345.2 L1284.8 335.2 L1292.3 326.7 L1288.9 312.5 L1292.6 289.6 L1303.6 267.1 L1302.9 244.5 L1306.5 221.4 L1306.8 199.4 L1310.5 187 L1313.8 175.9 L1333.6 153.2 L1334.7 128.2 L1335.3 108.1 L1338.3 85.1 L1341.4 70Z" fill="#fb8881" fill-opacity="0.15"/>
<line x1="1191.5" y1="45.25" x2="1191.5" y2="551" stroke="#111" stroke-width="1.4" stroke-dasharray="30.5 30.95"/>
<path d="M1346.4 70 L1352.9 85.1 L1338.4 108.1 L1329.4 128.2 L1322.8 153.2 L1291.3 175.9 L1289.9 187 L1283.3 199.4 L1259 221.4 L1236.1 244.5 L1225.7 267.1 L1206.2 289.6 L1198.9 312.5 L1207.3 326.7 L1171.2 345.2 L1156.1 369.7 L1121.1 380.9" fill="none" stroke="#000" stroke-width="1.5" stroke-linejoin="round"/>
<path d="M1313.2 70 L1308.6 85.1 L1303.9 108.1 L1302.9 128.2 L1301.2 153.2 L1277 175.9 L1272.8 187 L1280.3 199.4" fill="none" stroke="#3d48d4" stroke-width="5" stroke-dasharray="6.7 20"/>
<path d="M1280.3 199.4 L1266.8 221.4 L1268.2 244.5 L1261.2 267.1 L1267.8 289.6 L1259.8 312.5 L1253.4 326.7 L1249.4 335.2 L1229.3 345.2 L1227.3 369.7 L1212.3 380.9 L1206.3 426.4" fill="none" stroke="#3d48d4" stroke-width="4.4" stroke-linejoin="round"/>
<path d="M1316.5 70 L1302.4 85.1 L1290.6 108.1 L1285.5 128.2 L1277.1 153.2 L1267 175.9 L1265.1 187 L1272.2 199.4" fill="none" stroke="#0f9b5f" stroke-width="5" stroke-dasharray="6.7 20"/>
<path d="M1272.2 199.4 L1255.2 221.4 L1259.2 244.5 L1245.2 267.1 L1261.8 289.6 L1254.4 312.5 L1240.4 326.7 L1240.4 335.2 L1213.9 345.2 L1228.3 369.7 L1223.3 380.9 L1206.3 426.4" fill="none" stroke="#0f9b5f" stroke-width="4.4" stroke-linejoin="round"/>
<path d="M1253.3 70 L1252.8 85.1 L1251.9 108.1 L1251.1 128.2 L1250.2 153.2 L1242.6 175.9 L1241.8 187 L1241.8 199.4" fill="none" stroke="#fdd444" stroke-width="5" stroke-dasharray="6.7 20"/>
<path d="M1241.8 199.4 L1239.6 221.4 L1236.5 244.5 L1235.1 267.1 L1232.4 289.6 L1230.7 312.5 L1230.7 326.7 L1224.7 345.2 L1221.3 369.7 L1216.3 380.9" fill="none" stroke="#fdd444" stroke-width="4.4" stroke-linejoin="round"/>
<path d="M1398.8 70 L1398 85.1 L1396.9 108.1 L1396.1 128.2 L1395.2 153.2 L1374 175.9 L1371.1 187 L1367.9 199.4" fill="none" stroke="#fa6a0a" stroke-width="5" stroke-dasharray="6.7 20"/>
<path d="M1367.9 199.4 L1362.5 221.4 L1359.9 244.5 L1354.5 267.1 L1350.5 289.6 L1344.6 312.5 L1340.6 326.7 L1336.6 335.2 L1330.6 345.2 L1322.6 369.7 L1310.5 380.9 L1301.5 426.4" fill="none" stroke="#fa6a0a" stroke-width="4.4" stroke-linejoin="round"/>
<path d="M1438.7 70 L1428.6 85.1 L1418.8 108.1 L1414.2 128.2 L1404.9 153.2 L1385.7 175.9 L1380 187 L1380.5 199.4" fill="none" stroke="#fb5fb0" stroke-width="5" stroke-dasharray="6.7 20"/>
<path d="M1380.5 199.4 L1369.5 221.4 L1368.5 244.5 L1357.9 267.1 L1363.9 289.6 L1353.7 312.5 L1347 326.7 L1345.6 335.2 L1322.6 345.2 L1317.6 369.7 L1303.5 380.9 L1293.5 426.4" fill="none" stroke="#fb5fb0" stroke-width="4.4" stroke-linejoin="round"/>
<path d="M1420.5 70 L1416 85.1 L1411.4 108.1 L1409.9 128.2 L1408 153.2 L1388.1 175.9 L1385.6 187 L1382.9 199.4" fill="none" stroke="#bf5a8c" stroke-width="5" stroke-dasharray="6.7 20"/>
<path d="M1382.9 199.4 L1376.1 221.4 L1374.9 244.5 L1368.9 267.1 L1370.1 289.6 L1363.3 312.5 L1360.7 326.7 L1356.7 335.2 L1341.6 345.2 L1334.6 369.7 L1322.6 380.9 L1317.2 426.4" fill="none" stroke="#bf5a8c" stroke-width="4.4" stroke-linejoin="round"/>
<path d="M1421.7 70 L1419.3 85.1 L1417 108.1 L1416.6 128.2 L1415.9 153.2 L1396.2 175.9 L1394.5 187 L1392.6 199.4" fill="none" stroke="#6558b1" stroke-width="5" stroke-dasharray="6.7 20"/>
<path d="M1392.6 199.4 L1388.1 221.4 L1386.5 244.5 L1382.5 267.1 L1381.8 289.6 L1376.3 312.5 L1375.1 326.7 L1370.7 335.2 L1357.7 345.2 L1351.7 369.7 L1339.6 380.9 L1335.6 426.4" fill="none" stroke="#6558b1" stroke-width="4.4" stroke-linejoin="round"/>
<path d="M1328.4 70 L1325.3 85.1 L1321.9 108.1 L1320.9 128.2 L1319.3 153.2 L1299.1 175.9 L1295.6 187 L1291.7 199.4" fill="none" stroke="#fb8881" stroke-width="5" stroke-dasharray="6.7 20"/>
<path d="M1291.7 199.4 L1291.3 221.4 L1287.7 244.5 L1288.3 267.1 L1277.3 289.6 L1273.5 312.5 L1276.9 326.7 L1269.4 335.2 L1267.4 345.2 L1282.5 369.7 L1273.5 380.9 L1272.9 426.4" fill="none" stroke="#fb8881" stroke-width="4.4" stroke-linejoin="round"/>
<g fill="#000000" stroke="#000" stroke-width="1.45" stroke-linejoin="miter"><rect x="1278" y="193.8" width="10.6" height="11.3"/><rect x="1253.7" y="215.8" width="10.6" height="11.3"/><rect x="1230.8" y="238.8" width="10.6" height="11.3"/><rect x="1220.4" y="261.5" width="10.6" height="11.3"/><rect x="1200.9" y="284" width="10.6" height="11.3"/><rect x="1193.6" y="306.9" width="10.6" height="11.3"/><rect x="1202" y="321.1" width="10.6" height="11.3"/><rect x="1165.9" y="339.6" width="10.6" height="11.3"/><rect x="1150.8" y="364.1" width="10.6" height="11.3"/><rect x="1115.8" y="375.2" width="10.6" height="11.3"/></g>
<g fill="#3d48d4" stroke="#000" stroke-width="1.45" stroke-linejoin="miter"><rect x="1275" y="193.8" width="10.6" height="11.3"/><rect x="1261.5" y="215.8" width="10.6" height="11.3"/><rect x="1262.9" y="238.8" width="10.6" height="11.3"/><rect x="1255.9" y="261.5" width="10.6" height="11.3"/><rect x="1262.5" y="284" width="10.6" height="11.3"/><rect x="1254.5" y="306.9" width="10.6" height="11.3"/><rect x="1248.1" y="321.1" width="10.6" height="11.3"/><rect x="1244.1" y="329.6" width="10.6" height="11.3"/><rect x="1224" y="339.6" width="10.6" height="11.3"/><rect x="1222" y="364.1" width="10.6" height="11.3"/><rect x="1207" y="375.2" width="10.6" height="11.3"/><rect x="1201" y="420.8" width="10.6" height="11.3"/></g>
<g fill="#0f9b5f" stroke="#000" stroke-width="1.45" stroke-linejoin="miter"><ellipse cx="1272.2" cy="199.4" rx="6" ry="6.4"/><ellipse cx="1255.2" cy="221.4" rx="6" ry="6.4"/><ellipse cx="1259.2" cy="244.5" rx="6" ry="6.4"/><ellipse cx="1245.2" cy="267.1" rx="6" ry="6.4"/><ellipse cx="1261.8" cy="289.6" rx="6" ry="6.4"/><ellipse cx="1254.4" cy="312.5" rx="6" ry="6.4"/><ellipse cx="1240.4" cy="326.7" rx="6" ry="6.4"/><ellipse cx="1240.4" cy="335.2" rx="6" ry="6.4"/><ellipse cx="1213.9" cy="345.2" rx="6" ry="6.4"/><ellipse cx="1228.3" cy="369.7" rx="6" ry="6.4"/><ellipse cx="1223.3" cy="380.9" rx="6" ry="6.4"/><ellipse cx="1206.3" cy="426.4" rx="6" ry="6.4"/></g>
<g fill="#fdd444" stroke="#000" stroke-width="1.45" stroke-linejoin="miter"><path d="M1241.8 190.9L1249.1 199.4L1241.8 207.9L1234.5 199.4Z"/><path d="M1239.6 212.9L1246.9 221.4L1239.6 229.9L1232.3 221.4Z"/><path d="M1236.5 236L1243.8 244.5L1236.5 253L1229.2 244.5Z"/><path d="M1235.1 258.6L1242.4 267.1L1235.1 275.6L1227.8 267.1Z"/><path d="M1232.4 281.1L1239.7 289.6L1232.4 298.1L1225.1 289.6Z"/><path d="M1230.7 304L1238 312.5L1230.7 321L1223.4 312.5Z"/><path d="M1230.7 318.2L1238 326.7L1230.7 335.2L1223.4 326.7Z"/><path d="M1224.7 336.7L1232 345.2L1224.7 353.7L1217.4 345.2Z"/><path d="M1221.3 361.2L1228.6 369.7L1221.3 378.2L1214 369.7Z"/><path d="M1216.3 372.4L1223.6 380.9L1216.3 389.4L1209 380.9Z"/></g>
<g fill="#fa6a0a" stroke="#000" stroke-width="1.45" stroke-linejoin="miter"><path d="M1367.9 190.9L1375.2 199.4L1367.9 207.9L1360.6 199.4Z"/><path d="M1362.5 212.9L1369.8 221.4L1362.5 229.9L1355.2 221.4Z"/><path d="M1359.9 236L1367.2 244.5L1359.9 253L1352.6 244.5Z"/><path d="M1354.5 258.6L1361.8 267.1L1354.5 275.6L1347.2 267.1Z"/><path d="M1350.5 281.1L1357.8 289.6L1350.5 298.1L1343.2 289.6Z"/><path d="M1344.6 304L1351.9 312.5L1344.6 321L1337.3 312.5Z"/><path d="M1340.6 318.2L1347.9 326.7L1340.6 335.2L1333.3 326.7Z"/><path d="M1336.6 326.7L1343.9 335.2L1336.6 343.7L1329.3 335.2Z"/><path d="M1330.6 336.7L1337.9 345.2L1330.6 353.7L1323.3 345.2Z"/><path d="M1322.6 361.2L1329.9 369.7L1322.6 378.2L1315.3 369.7Z"/><path d="M1310.5 372.4L1317.8 380.9L1310.5 389.4L1303.2 380.9Z"/><path d="M1301.5 417.9L1308.8 426.4L1301.5 434.9L1294.2 426.4Z"/></g>
<g fill="#fb5fb0" stroke="#000" stroke-width="1.45" stroke-linejoin="miter"><path d="M1380.5 190.9L1387.8 199.4L1380.5 207.9L1373.2 199.4Z"/><path d="M1369.5 212.9L1376.8 221.4L1369.5 229.9L1362.2 221.4Z"/><path d="M1368.5 236L1375.8 244.5L1368.5 253L1361.2 244.5Z"/><path d="M1357.9 258.6L1365.2 267.1L1357.9 275.6L1350.6 267.1Z"/><path d="M1363.9 281.1L1371.2 289.6L1363.9 298.1L1356.6 289.6Z"/><path d="M1353.7 304L1361 312.5L1353.7 321L1346.4 312.5Z"/><path d="M1347 318.2L1354.3 326.7L1347 335.2L1339.7 326.7Z"/><path d="M1345.6 326.7L1352.9 335.2L1345.6 343.7L1338.3 335.2Z"/><path d="M1322.6 336.7L1329.9 345.2L1322.6 353.7L1315.3 345.2Z"/><path d="M1317.6 361.2L1324.9 369.7L1317.6 378.2L1310.3 369.7Z"/><path d="M1303.5 372.4L1310.8 380.9L1303.5 389.4L1296.2 380.9Z"/><path d="M1293.5 417.9L1300.8 426.4L1293.5 434.9L1286.2 426.4Z"/></g>
<g fill="#bf5a8c" stroke="#000" stroke-width="1.45" stroke-linejoin="miter"><path d="M1382.9 190.9L1390.2 199.4L1382.9 207.9L1375.6 199.4Z"/><path d="M1376.1 212.9L1383.4 221.4L1376.1 229.9L1368.8 221.4Z"/><path d="M1374.9 236L1382.2 244.5L1374.9 253L1367.6 244.5Z"/><path d="M1368.9 258.6L1376.2 267.1L1368.9 275.6L1361.6 267.1Z"/><path d="M1370.1 281.1L1377.4 289.6L1370.1 298.1L1362.8 289.6Z"/><path d="M1363.3 304L1370.6 312.5L1363.3 321L1356 312.5Z"/><path d="M1360.7 318.2L1368 326.7L1360.7 335.2L1353.4 326.7Z"/><path d="M1356.7 326.7L1364 335.2L1356.7 343.7L1349.4 335.2Z"/><path d="M1341.6 336.7L1348.9 345.2L1341.6 353.7L1334.3 345.2Z"/><path d="M1334.6 361.2L1341.9 369.7L1334.6 378.2L1327.3 369.7Z"/><path d="M1322.6 372.4L1329.9 380.9L1322.6 389.4L1315.3 380.9Z"/><path d="M1317.2 417.9L1324.5 426.4L1317.2 434.9L1309.9 426.4Z"/></g>
<g fill="#6558b1" stroke="#000" stroke-width="1.45" stroke-linejoin="miter"><path d="M1392.6 190.9L1399.9 199.4L1392.6 207.9L1385.3 199.4Z"/><path d="M1388.1 212.9L1395.4 221.4L1388.1 229.9L1380.8 221.4Z"/><path d="M1386.5 236L1393.8 244.5L1386.5 253L1379.2 244.5Z"/><path d="M1382.5 258.6L1389.8 267.1L1382.5 275.6L1375.2 267.1Z"/><path d="M1381.8 281.1L1389.1 289.6L1381.8 298.1L1374.5 289.6Z"/><path d="M1376.3 304L1383.6 312.5L1376.3 321L1369 312.5Z"/><path d="M1375.1 318.2L1382.4 326.7L1375.1 335.2L1367.8 326.7Z"/><path d="M1370.7 326.7L1378 335.2L1370.7 343.7L1363.4 335.2Z"/><path d="M1357.7 336.7L1365 345.2L1357.7 353.7L1350.4 345.2Z"/><path d="M1351.7 361.2L1359 369.7L1351.7 378.2L1344.4 369.7Z"/><path d="M1339.6 372.4L1346.9 380.9L1339.6 389.4L1332.3 380.9Z"/><path d="M1335.6 417.9L1342.9 426.4L1335.6 434.9L1328.3 426.4Z"/></g>
<g fill="#fb8881" stroke="#000" stroke-width="1.45" stroke-linejoin="miter"><path d="M1291.7 190.9L1299 199.4L1291.7 207.9L1284.4 199.4Z"/><path d="M1291.3 212.9L1298.6 221.4L1291.3 229.9L1284 221.4Z"/><path d="M1287.7 236L1295 244.5L1287.7 253L1280.4 244.5Z"/><path d="M1288.3 258.6L1295.6 267.1L1288.3 275.6L1281 267.1Z"/><path d="M1277.3 281.1L1284.6 289.6L1277.3 298.1L1270 289.6Z"/><path d="M1273.5 304L1280.8 312.5L1273.5 321L1266.2 312.5Z"/><path d="M1276.9 318.2L1284.2 326.7L1276.9 335.2L1269.6 326.7Z"/><path d="M1269.4 326.7L1276.7 335.2L1269.4 343.7L1262.1 335.2Z"/><path d="M1267.4 336.7L1274.7 345.2L1267.4 353.7L1260.1 345.2Z"/><path d="M1282.5 361.2L1289.8 369.7L1282.5 378.2L1275.2 369.7Z"/><path d="M1273.5 372.4L1280.8 380.9L1273.5 389.4L1266.2 380.9Z"/><path d="M1272.9 417.9L1280.2 426.4L1272.9 434.9L1265.6 426.4Z"/></g>
<rect x="1088" y="329.6" width="392" height="24" fill="#000" fill-opacity="0.31"/><line x1="1088" y1="329.6" x2="1480" y2="329.6" stroke="#000" stroke-width="1.3"/><line x1="1088" y1="353.6" x2="1480" y2="353.6" stroke="#000" stroke-width="1.3"/>
<rect x="1088" y="385" width="392" height="9" fill="#000"/>
<rect x="1088" y="426" width="392" height="128" fill="#000"/>
</g>
<rect x="1092.4" y="60.3" width="384.3" height="490.7" fill="none" stroke="#000" stroke-width="4.6"/>
<line x1="1083.6" y1="65.2" x2="1090.1" y2="65.2" stroke="#231f20" stroke-width="4.2"/>
<text transform="translate(1071.5 76.7) scale(1 1.03)" text-anchor="end">0</text>
<line x1="1083.6" y1="185.5" x2="1090.1" y2="185.5" stroke="#231f20" stroke-width="4.2"/>
<text transform="translate(1073.3 197) scale(1 1.03)" text-anchor="end">50</text>
<line x1="1083.6" y1="305.8" x2="1090.1" y2="305.8" stroke="#231f20" stroke-width="4.2"/>
<text transform="translate(1075 317.3) scale(1 1.03)" text-anchor="end">100</text>
<line x1="1083.6" y1="426.1" x2="1090.1" y2="426.1" stroke="#231f20" stroke-width="4.2"/>
<text transform="translate(1075 437.6) scale(1 1.03)" text-anchor="end">150</text>
<line x1="1083.6" y1="546.4" x2="1090.1" y2="546.4" stroke="#231f20" stroke-width="4.2"/>
<text transform="translate(1075 557.9) scale(1 1.03)" text-anchor="end">200</text>
<line x1="1097.7" y1="553.3" x2="1097.7" y2="560.5" stroke="#231f20" stroke-width="4.2"/>
<text transform="translate(1098.9 590.8) scale(1 1.03)" text-anchor="middle" letter-spacing="-1.6">30</text>
<line x1="1191" y1="553.3" x2="1191" y2="560.5" stroke="#231f20" stroke-width="4.2"/>
<text transform="translate(1191.6 590.8) scale(1 1.03)" text-anchor="middle">0</text>
<line x1="1284" y1="553.3" x2="1284" y2="560.5" stroke="#231f20" stroke-width="4.2"/>
<text transform="translate(1284.2 590.8) scale(1 1.03)" text-anchor="middle" letter-spacing="-1.7">−30</text>
<line x1="1376.7" y1="553.3" x2="1376.7" y2="560.5" stroke="#231f20" stroke-width="4.2"/>
<text transform="translate(1378.2 590.8) scale(1 1.03)" text-anchor="middle" letter-spacing="-1.7">−60</text>
<line x1="1470" y1="553.3" x2="1470" y2="560.5" stroke="#231f20" stroke-width="4.2"/>
<text transform="translate(1471.8 590.8) scale(1 1.03)" text-anchor="middle" letter-spacing="-1.7">−90</text>
<text transform="translate(291.6 31.7) scale(1 1.03)" font-size="37.9" text-anchor="middle">U1545B</text>
<text transform="translate(785.5 31.7) scale(1 1.03)" font-size="37.9" text-anchor="middle">U1546B</text>
<text transform="translate(1280.3 31.7) scale(1 1.03)" font-size="37.9" text-anchor="middle">U1547B</text>
<text transform="translate(227.6 1186.7) scale(1 1.03)" textLength="126.3" lengthAdjust="spacingAndGlyphs">KJ/mol C</text>
<text transform="translate(721.3 1186.7) scale(1 1.03)" textLength="126.8" lengthAdjust="spacingAndGlyphs">KJ/mol C</text>
<text transform="translate(1215.3 632.7) scale(1 1.03)" textLength="127.5" lengthAdjust="spacingAndGlyphs">KJ/mol C</text>
<text transform="translate(26.5 691.1) rotate(-90) scale(1 1.03)" textLength="181.5" lengthAdjust="spacingAndGlyphs">Depth (mbsf)</text>
<g font-size="30.2">
<text transform="translate(1162.8 724.2) scale(1 1.03)" textLength="238" lengthAdjust="spacingAndGlyphs">Hydrogenotrophic</text>
<line x1="1086" y1="734.4" x2="1494" y2="732.8" stroke="#231f20" stroke-width="2.7"/>
<rect x="1092.6" y="744.1" width="24.6" height="28" fill="#d9d9d9" stroke="#dedede" stroke-width="1.4"/>
<line x1="1094" y1="758.7" x2="1115.8" y2="758.7" stroke="#000" stroke-width="7"/>
<ellipse cx="1104.6" cy="758.7" rx="5.9" ry="6.9" fill="#000000" stroke="#000" stroke-width="1.3"/>
<text transform="translate(1125.8 764.2) scale(1 1.03)"><tspan x="0" y="0">H</tspan><tspan x="22.2" y="9.9" font-size="18">2</tspan><tspan x="36.6" y="0"> </tspan><tspan x="36.6" y="0">/</tspan><tspan x="53.4" y="0" letter-spacing="-0.35">CO</tspan><tspan x="99.2" y="9.9" font-size="18">2</tspan><tspan x="116.7" y="0">: reaction 1*</tspan></text>
<rect x="1092.6" y="779.5" width="24.6" height="27.6" fill="#e4f3fb" stroke="#dedede" stroke-width="1.4"/>
<line x1="1094" y1="792.8" x2="1115.8" y2="792.8" stroke="#000" stroke-width="1.3"/>
<ellipse cx="1104.6" cy="792.8" rx="5.9" ry="6.9" fill="#3d48d4" stroke="#000" stroke-width="1.3"/>
<text transform="translate(1126.6 798.2) scale(1 1.03)">Formate : reaction 2</text>
<text transform="translate(1188.2 853.8) scale(1 1.03)" textLength="186.5" lengthAdjust="spacingAndGlyphs">Acetatoclastic</text>
<line x1="1086" y1="863.8" x2="1494" y2="862" stroke="#231f20" stroke-width="2.7"/>
<rect x="1092.6" y="873.7" width="24.6" height="27.4" fill="#d9f0e7" stroke="#dedede" stroke-width="1.4"/>
<line x1="1094" y1="886.4" x2="1115.8" y2="886.4" stroke="#000" stroke-width="1.3"/>
<path d="M1104.6 878.2L1112.5 892.6L1096.6999999999998 892.6Z" fill="#0f9b5f" stroke="#111" stroke-width="1.3"/>
<text transform="translate(1125.4 891.3) scale(1 1.03)">Acetate : reaction 3</text>
<text transform="translate(1182.5 945) scale(1 1.03)" textLength="197" lengthAdjust="spacingAndGlyphs">Methylotrophic</text>
<line x1="1086" y1="955.3" x2="1494" y2="953.4" stroke="#231f20" stroke-width="2.9"/>
<rect x="1092.6" y="965.7" width="24.6" height="27.4" fill="#fff9e5" stroke="#dedede" stroke-width="1.4"/>
<line x1="1094" y1="980.6" x2="1115.8" y2="980.6" stroke="#000" stroke-width="1.3"/>
<path d="M1104.6 972.3L1110.8 980.6L1104.6 988.9L1098.3999999999999 980.6Z" fill="#fdd444" stroke="#111" stroke-width="1.3"/>
<text transform="translate(1125 982.8) scale(1 1.03)">Methanol / H<tspan font-size="10.5" dy="10.3" dx="0.3" font-weight="bold">2</tspan><tspan dy="-10.3"> : reaction 4</tspan></text>
<rect x="1092.6" y="998.8" width="24.6" height="27.4" fill="#feeade" stroke="#dedede" stroke-width="1.4"/>
<line x1="1094" y1="1013.7" x2="1115.8" y2="1013.7" stroke="#000" stroke-width="1.3"/>
<path d="M1104.6 1005.4L1110.8 1013.7L1104.6 1022L1098.3999999999999 1013.7Z" fill="#fa6a0a" stroke="#111" stroke-width="1.3"/>
<text transform="translate(1127.2 1017.6) scale(1 1.03)">Methanol : reaction 5</text>
<rect x="1092.6" y="1032.7" width="24.6" height="27" fill="#fee6f1" stroke="#dedede" stroke-width="1.4"/>
<line x1="1094" y1="1047.4" x2="1115.8" y2="1047.4" stroke="#000" stroke-width="1.3"/>
<path d="M1104.6 1039.1L1110.8 1047.4L1104.6 1055.7L1098.3999999999999 1047.4Z" fill="#fb5fb0" stroke="#111" stroke-width="1.3"/>
<text transform="translate(1126.3 1051) scale(1 1.03)">Methylamine : reaction 6</text>
<rect x="1092.6" y="1066.7" width="24.6" height="27" fill="#f5e3ea" stroke="#dedede" stroke-width="1.4"/>
<line x1="1094" y1="1081.4" x2="1115.8" y2="1081.4" stroke="#000" stroke-width="1.3"/>
<path d="M1104.6 1073.1L1110.8 1081.4L1104.6 1089.7L1098.3999999999999 1081.4Z" fill="#bf5a8c" stroke="#111" stroke-width="1.3"/>
<text transform="translate(1126.3 1085) scale(1 1.03)">Dimethylamine : reaction 7</text>
<rect x="1092.6" y="1100.7" width="24.6" height="26.9" fill="#e6e5f5" stroke="#dedede" stroke-width="1.4"/>
<line x1="1094" y1="1115.4" x2="1115.8" y2="1115.4" stroke="#000" stroke-width="1.3"/>
<path d="M1104.6 1107.1L1110.8 1115.4L1104.6 1123.7L1098.3999999999999 1115.4Z" fill="#6558b1" stroke="#111" stroke-width="1.3"/>
<text transform="translate(1126.3 1118.7) scale(1 1.03)">Trimethylamine : reaction 8</text>
<rect x="1092.6" y="1134.5" width="24.6" height="27.2" fill="#feecea" stroke="#dedede" stroke-width="1.4"/>
<line x1="1094" y1="1149.3" x2="1115.8" y2="1149.3" stroke="#000" stroke-width="1.3"/>
<path d="M1104.6 1141L1110.8 1149.3L1104.6 1157.6L1098.3999999999999 1149.3Z" fill="#fb8881" stroke="#111" stroke-width="1.3"/>
<text transform="translate(1126.3 1152.3) scale(1 1.03)">Dimethylsulfide : reaction 9</text>
</g>
</svg></body></html>
